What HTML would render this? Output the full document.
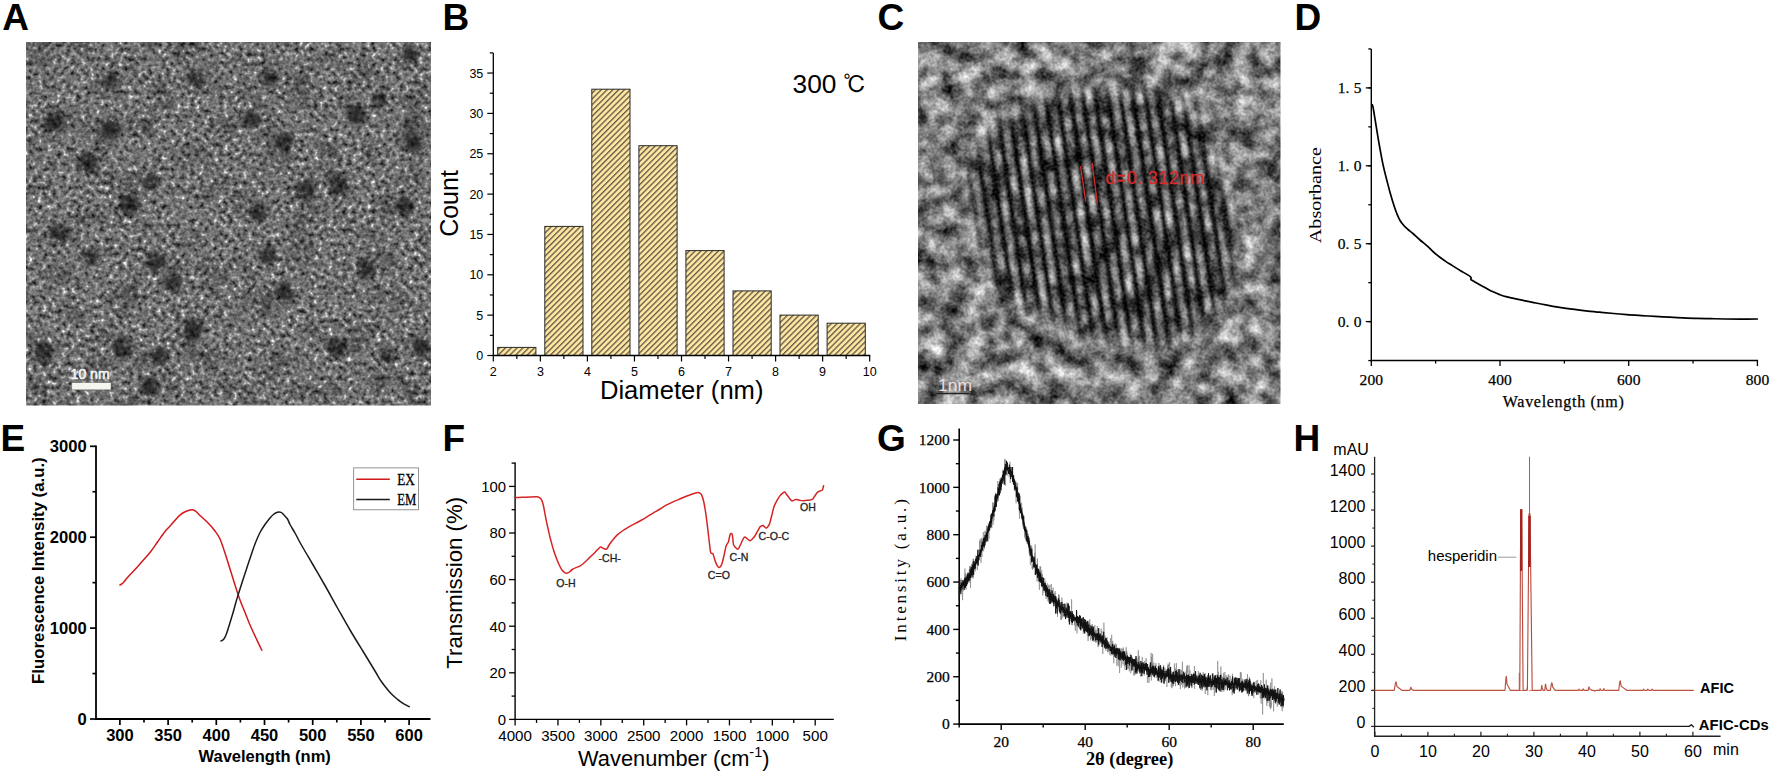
<!DOCTYPE html>
<html lang="en"><head><meta charset="utf-8"><title>Figure</title>
<style>
html,body{margin:0;padding:0;background:#fff;}
body{width:1772px;height:773px;overflow:hidden;}
svg{display:block;}
text{white-space:pre;}
</style></head><body>
<svg width="1772" height="773" viewBox="0 0 1772 773">
<rect width="1772" height="773" fill="#fff"/>
<defs>
<filter id="grainA" x="0" y="0" width="100%" height="100%" color-interpolation-filters="sRGB">
  <feTurbulence type="fractalNoise" baseFrequency="0.21" numOctaves="2" seed="7" result="n"/>
  <feColorMatrix in="n" type="matrix" values="1.55 0 0 0 -0.275  1.55 0 0 0 -0.275  1.55 0 0 0 -0.275  0 0 0 0 1" result="g"/>
  <feComponentTransfer in="g" result="t">
    <feFuncR type="table" tableValues="0.10 0.31 0.45 0.59 0.96"/>
    <feFuncG type="table" tableValues="0.10 0.31 0.45 0.59 0.96"/>
    <feFuncB type="table" tableValues="0.10 0.31 0.45 0.59 0.96"/>
  </feComponentTransfer>
  <feGaussianBlur in="t" stdDeviation="0.7" result="tb"/>
  <feTurbulence type="fractalNoise" baseFrequency="0.035" numOctaves="2" seed="21" result="lf"/>
  <feColorMatrix in="lf" type="matrix" values="0.9 0 0 0 0.55  0.9 0 0 0 0.55  0.9 0 0 0 0.55  0 0 0 0 1" result="lfg"/>
  <feBlend in="tb" in2="lfg" mode="multiply" result="tb2"/>
  <feBlend in="SourceGraphic" in2="tb2" mode="multiply"/>
</filter>
<filter id="blurA" x="-50%" y="-50%" width="200%" height="200%"><feGaussianBlur stdDeviation="2.8"/></filter>
<pattern id="hatch" width="4.1" height="4.1" patternUnits="userSpaceOnUse" patternTransform="rotate(-45)">
  <rect width="4.1" height="4.1" fill="#FBE7A2"/>
  <rect y="0" width="4.1" height="1.35" fill="#6a5a48"/>
</pattern>
<clipPath id="clipA"><rect x="26" y="42" width="405" height="363.5"/></clipPath>
</defs>
<text x="2.2" y="29.6" font-family='"Liberation Sans", sans-serif' font-size="37" font-weight="bold" text-anchor="start" fill="#000" >A</text>
<text x="442.5" y="29.6" font-family='"Liberation Sans", sans-serif' font-size="37" font-weight="bold" text-anchor="start" fill="#000" >B</text>
<text x="877.5" y="29.6" font-family='"Liberation Sans", sans-serif' font-size="37" font-weight="bold" text-anchor="start" fill="#000" >C</text>
<text x="1294.5" y="29.6" font-family='"Liberation Sans", sans-serif' font-size="37" font-weight="bold" text-anchor="start" fill="#000" >D</text>
<text x="0.5" y="451.3" font-family='"Liberation Sans", sans-serif' font-size="37" font-weight="bold" text-anchor="start" fill="#000" >E</text>
<text x="442.5" y="451.3" font-family='"Liberation Sans", sans-serif' font-size="37" font-weight="bold" text-anchor="start" fill="#000" >F</text>
<text x="877.0" y="451.3" font-family='"Liberation Sans", sans-serif' font-size="37" font-weight="bold" text-anchor="start" fill="#000" >G</text>
<text x="1293.5" y="451.3" font-family='"Liberation Sans", sans-serif' font-size="37" font-weight="bold" text-anchor="start" fill="#000" >H</text>
<g clip-path="url(#clipA)"><g filter="url(#grainA)">
<rect x="26" y="42" width="405" height="363.5" fill="#ffffff"/>
<g filter="url(#blurA)" fill="#484848" fill-opacity="0.82">
<ellipse cx="111" cy="81" rx="8.1" ry="8.4"/>
<ellipse cx="195.5" cy="79" rx="8.4" ry="8.9"/>
<ellipse cx="270" cy="78" rx="9.1" ry="8.3"/>
<ellipse cx="380" cy="99" rx="7.5" ry="8.4"/>
<ellipse cx="410" cy="54" rx="8.1" ry="7.8"/>
<ellipse cx="54" cy="120.5" rx="10.0" ry="10.2"/>
<ellipse cx="111" cy="129" rx="9.6" ry="9.8"/>
<ellipse cx="251" cy="119.5" rx="9.1" ry="8.5"/>
<ellipse cx="285" cy="142" rx="9.1" ry="10.2"/>
<ellipse cx="356" cy="115" rx="8.8" ry="9.6"/>
<ellipse cx="413" cy="144" rx="9.2" ry="8.4"/>
<ellipse cx="87" cy="163" rx="9.4" ry="9.8"/>
<ellipse cx="151" cy="182" rx="8.3" ry="7.5"/>
<ellipse cx="130" cy="205" rx="9.7" ry="9.8"/>
<ellipse cx="306" cy="190" rx="9.3" ry="10.4"/>
<ellipse cx="339.5" cy="186" rx="9.3" ry="10.5"/>
<ellipse cx="405" cy="205" rx="8.5" ry="9.3"/>
<ellipse cx="258" cy="212" rx="8.6" ry="9.8"/>
<ellipse cx="58" cy="233.5" rx="9.7" ry="9.0"/>
<ellipse cx="91" cy="257" rx="7.8" ry="7.5"/>
<ellipse cx="155" cy="262" rx="9.9" ry="10.0"/>
<ellipse cx="173" cy="282.5" rx="9.1" ry="8.8"/>
<ellipse cx="268" cy="255" rx="8.8" ry="8.7"/>
<ellipse cx="285" cy="290.5" rx="8.4" ry="8.8"/>
<ellipse cx="366.5" cy="268" rx="9.0" ry="10.1"/>
<ellipse cx="43.5" cy="353" rx="9.2" ry="10.4"/>
<ellipse cx="122" cy="347.5" rx="9.6" ry="11.1"/>
<ellipse cx="160" cy="356" rx="9.2" ry="8.6"/>
<ellipse cx="193" cy="330" rx="9.7" ry="11.0"/>
<ellipse cx="337" cy="347.5" rx="9.8" ry="10.2"/>
<ellipse cx="422.5" cy="347.5" rx="9.3" ry="8.8"/>
<ellipse cx="149.5" cy="387" rx="9.6" ry="10.0"/>
<ellipse cx="388" cy="356" rx="8.2" ry="7.5"/>
</g></g></g>
<rect x="71.7" y="382.6" width="39.3" height="7.2" fill="#f5f5ef" stroke="#3a3a3a" stroke-opacity="0.45" stroke-width="0.8"/>
<text x="70.6" y="379.4" font-family='"Liberation Sans", sans-serif' font-size="14.2" font-weight="normal" text-anchor="start" fill="#f6f6f2" stroke="#f6f6f2" stroke-width="0.55" textLength="39" lengthAdjust="spacingAndGlyphs">10 nm</text>
<rect x="497.7" y="347.4" width="38.2" height="8.1" fill="url(#hatch)" stroke="#2a2a2a" stroke-width="1"/>
<rect x="544.8" y="226.4" width="38.2" height="129.1" fill="url(#hatch)" stroke="#2a2a2a" stroke-width="1"/>
<rect x="591.8" y="89.2" width="38.2" height="266.3" fill="url(#hatch)" stroke="#2a2a2a" stroke-width="1"/>
<rect x="638.9" y="145.7" width="38.2" height="209.8" fill="url(#hatch)" stroke="#2a2a2a" stroke-width="1"/>
<rect x="685.9" y="250.6" width="38.2" height="104.9" fill="url(#hatch)" stroke="#2a2a2a" stroke-width="1"/>
<rect x="733.0" y="290.9" width="38.2" height="64.6" fill="url(#hatch)" stroke="#2a2a2a" stroke-width="1"/>
<rect x="780.0" y="315.1" width="38.2" height="40.4" fill="url(#hatch)" stroke="#2a2a2a" stroke-width="1"/>
<rect x="827.1" y="323.2" width="38.2" height="32.3" fill="url(#hatch)" stroke="#2a2a2a" stroke-width="1"/>
<line x1="493.30" y1="356.10" x2="493.30" y2="52.88" stroke="#000" stroke-width="1.3" />
<line x1="492.70" y1="355.50" x2="870.30" y2="355.50" stroke="#000" stroke-width="1.3" />
<line x1="487.30" y1="355.50" x2="493.30" y2="355.50" stroke="#000" stroke-width="1.2" />
<text x="483.3" y="359.9" font-family='"Liberation Sans", sans-serif' font-size="12.5" font-weight="normal" text-anchor="end" fill="#000" >0</text>
<line x1="487.30" y1="315.15" x2="493.30" y2="315.15" stroke="#000" stroke-width="1.2" />
<text x="483.3" y="319.5" font-family='"Liberation Sans", sans-serif' font-size="12.5" font-weight="normal" text-anchor="end" fill="#000" >5</text>
<line x1="487.30" y1="274.80" x2="493.30" y2="274.80" stroke="#000" stroke-width="1.2" />
<text x="483.3" y="279.2" font-family='"Liberation Sans", sans-serif' font-size="12.5" font-weight="normal" text-anchor="end" fill="#000" >10</text>
<line x1="487.30" y1="234.45" x2="493.30" y2="234.45" stroke="#000" stroke-width="1.2" />
<text x="483.3" y="238.8" font-family='"Liberation Sans", sans-serif' font-size="12.5" font-weight="normal" text-anchor="end" fill="#000" >15</text>
<line x1="487.30" y1="194.10" x2="493.30" y2="194.10" stroke="#000" stroke-width="1.2" />
<text x="483.3" y="198.5" font-family='"Liberation Sans", sans-serif' font-size="12.5" font-weight="normal" text-anchor="end" fill="#000" >20</text>
<line x1="487.30" y1="153.75" x2="493.30" y2="153.75" stroke="#000" stroke-width="1.2" />
<text x="483.3" y="158.2" font-family='"Liberation Sans", sans-serif' font-size="12.5" font-weight="normal" text-anchor="end" fill="#000" >25</text>
<line x1="487.30" y1="113.40" x2="493.30" y2="113.40" stroke="#000" stroke-width="1.2" />
<text x="483.3" y="117.8" font-family='"Liberation Sans", sans-serif' font-size="12.5" font-weight="normal" text-anchor="end" fill="#000" >30</text>
<line x1="487.30" y1="73.05" x2="493.30" y2="73.05" stroke="#000" stroke-width="1.2" />
<text x="483.3" y="77.5" font-family='"Liberation Sans", sans-serif' font-size="12.5" font-weight="normal" text-anchor="end" fill="#000" >35</text>
<line x1="489.80" y1="335.32" x2="493.30" y2="335.32" stroke="#000" stroke-width="1.2" />
<line x1="489.80" y1="294.98" x2="493.30" y2="294.98" stroke="#000" stroke-width="1.2" />
<line x1="489.80" y1="254.62" x2="493.30" y2="254.62" stroke="#000" stroke-width="1.2" />
<line x1="489.80" y1="214.28" x2="493.30" y2="214.28" stroke="#000" stroke-width="1.2" />
<line x1="489.80" y1="173.92" x2="493.30" y2="173.92" stroke="#000" stroke-width="1.2" />
<line x1="489.80" y1="133.57" x2="493.30" y2="133.57" stroke="#000" stroke-width="1.2" />
<line x1="489.80" y1="93.22" x2="493.30" y2="93.22" stroke="#000" stroke-width="1.2" />
<line x1="489.80" y1="52.88" x2="493.30" y2="52.88" stroke="#000" stroke-width="1.2" />
<line x1="493.30" y1="355.50" x2="493.30" y2="361.50" stroke="#000" stroke-width="1.2" />
<text x="493.3" y="376.3" font-family='"Liberation Sans", sans-serif' font-size="12.5" font-weight="normal" text-anchor="middle" fill="#000" >2</text>
<line x1="540.35" y1="355.50" x2="540.35" y2="361.50" stroke="#000" stroke-width="1.2" />
<text x="540.4" y="376.3" font-family='"Liberation Sans", sans-serif' font-size="12.5" font-weight="normal" text-anchor="middle" fill="#000" >3</text>
<line x1="587.40" y1="355.50" x2="587.40" y2="361.50" stroke="#000" stroke-width="1.2" />
<text x="587.4" y="376.3" font-family='"Liberation Sans", sans-serif' font-size="12.5" font-weight="normal" text-anchor="middle" fill="#000" >4</text>
<line x1="634.45" y1="355.50" x2="634.45" y2="361.50" stroke="#000" stroke-width="1.2" />
<text x="634.5" y="376.3" font-family='"Liberation Sans", sans-serif' font-size="12.5" font-weight="normal" text-anchor="middle" fill="#000" >5</text>
<line x1="681.50" y1="355.50" x2="681.50" y2="361.50" stroke="#000" stroke-width="1.2" />
<text x="681.5" y="376.3" font-family='"Liberation Sans", sans-serif' font-size="12.5" font-weight="normal" text-anchor="middle" fill="#000" >6</text>
<line x1="728.55" y1="355.50" x2="728.55" y2="361.50" stroke="#000" stroke-width="1.2" />
<text x="728.5" y="376.3" font-family='"Liberation Sans", sans-serif' font-size="12.5" font-weight="normal" text-anchor="middle" fill="#000" >7</text>
<line x1="775.60" y1="355.50" x2="775.60" y2="361.50" stroke="#000" stroke-width="1.2" />
<text x="775.6" y="376.3" font-family='"Liberation Sans", sans-serif' font-size="12.5" font-weight="normal" text-anchor="middle" fill="#000" >8</text>
<line x1="822.65" y1="355.50" x2="822.65" y2="361.50" stroke="#000" stroke-width="1.2" />
<text x="822.6" y="376.3" font-family='"Liberation Sans", sans-serif' font-size="12.5" font-weight="normal" text-anchor="middle" fill="#000" >9</text>
<line x1="869.70" y1="355.50" x2="869.70" y2="361.50" stroke="#000" stroke-width="1.2" />
<text x="869.7" y="376.3" font-family='"Liberation Sans", sans-serif' font-size="12.5" font-weight="normal" text-anchor="middle" fill="#000" >10</text>
<line x1="516.83" y1="355.50" x2="516.83" y2="359.00" stroke="#000" stroke-width="1.2" />
<line x1="563.88" y1="355.50" x2="563.88" y2="359.00" stroke="#000" stroke-width="1.2" />
<line x1="610.92" y1="355.50" x2="610.92" y2="359.00" stroke="#000" stroke-width="1.2" />
<line x1="657.98" y1="355.50" x2="657.98" y2="359.00" stroke="#000" stroke-width="1.2" />
<line x1="705.02" y1="355.50" x2="705.02" y2="359.00" stroke="#000" stroke-width="1.2" />
<line x1="752.08" y1="355.50" x2="752.08" y2="359.00" stroke="#000" stroke-width="1.2" />
<line x1="799.12" y1="355.50" x2="799.12" y2="359.00" stroke="#000" stroke-width="1.2" />
<line x1="846.17" y1="355.50" x2="846.17" y2="359.00" stroke="#000" stroke-width="1.2" />
<text x="681.7" y="399.0" font-family='"Liberation Sans", sans-serif' font-size="25.6" font-weight="normal" text-anchor="middle" fill="#000" >Diameter (nm)</text>
<text transform="translate(457.6,203.5) rotate(-90)" font-family='"Liberation Sans", sans-serif' font-size="25" font-weight="normal" text-anchor="middle" fill="#000" >Count</text>
<text x="792.6" y="93.3" font-family='"Liberation Sans", sans-serif' font-size="26.3" font-weight="normal" text-anchor="start" fill="#000" >300 <tspan font-family='"Liberation Sans","IPAGothic","Noto Sans CJK JP",sans-serif' font-size="23.5" dx="-0.5" dy="0">℃</tspan></text>
<line x1="1371.30" y1="361.25" x2="1371.30" y2="48.95" stroke="#000" stroke-width="1.4" />
<line x1="1370.60" y1="360.55" x2="1758.10" y2="360.55" stroke="#000" stroke-width="1.4" />
<line x1="1365.80" y1="321.60" x2="1371.30" y2="321.60" stroke="#000" stroke-width="1.3" />
<text x="1337.8" y="326.6" font-family='"Liberation Serif", serif' font-size="15.5" font-weight="normal" text-anchor="start" fill="#000" stroke="#000" stroke-width="0.25">0.<tspan dx="4.2">0</tspan></text>
<line x1="1365.80" y1="243.70" x2="1371.30" y2="243.70" stroke="#000" stroke-width="1.3" />
<text x="1337.8" y="248.7" font-family='"Liberation Serif", serif' font-size="15.5" font-weight="normal" text-anchor="start" fill="#000" stroke="#000" stroke-width="0.25">0.<tspan dx="4.2">5</tspan></text>
<line x1="1365.80" y1="165.80" x2="1371.30" y2="165.80" stroke="#000" stroke-width="1.3" />
<text x="1337.8" y="170.8" font-family='"Liberation Serif", serif' font-size="15.5" font-weight="normal" text-anchor="start" fill="#000" stroke="#000" stroke-width="0.25">1.<tspan dx="4.2">0</tspan></text>
<line x1="1365.80" y1="87.90" x2="1371.30" y2="87.90" stroke="#000" stroke-width="1.3" />
<text x="1337.8" y="92.9" font-family='"Liberation Serif", serif' font-size="15.5" font-weight="normal" text-anchor="start" fill="#000" stroke="#000" stroke-width="0.25">1.<tspan dx="4.2">5</tspan></text>
<line x1="1368.30" y1="360.55" x2="1371.30" y2="360.55" stroke="#000" stroke-width="1.3" />
<line x1="1368.30" y1="321.60" x2="1371.30" y2="321.60" stroke="#000" stroke-width="1.3" />
<line x1="1368.30" y1="282.65" x2="1371.30" y2="282.65" stroke="#000" stroke-width="1.3" />
<line x1="1368.30" y1="243.70" x2="1371.30" y2="243.70" stroke="#000" stroke-width="1.3" />
<line x1="1368.30" y1="204.75" x2="1371.30" y2="204.75" stroke="#000" stroke-width="1.3" />
<line x1="1368.30" y1="165.80" x2="1371.30" y2="165.80" stroke="#000" stroke-width="1.3" />
<line x1="1368.30" y1="126.85" x2="1371.30" y2="126.85" stroke="#000" stroke-width="1.3" />
<line x1="1368.30" y1="87.90" x2="1371.30" y2="87.90" stroke="#000" stroke-width="1.3" />
<line x1="1368.30" y1="48.95" x2="1371.30" y2="48.95" stroke="#000" stroke-width="1.3" />
<line x1="1371.30" y1="360.55" x2="1371.30" y2="366.05" stroke="#000" stroke-width="1.3" />
<text x="1371.3" y="384.6" font-family='"Liberation Serif", serif' font-size="15.5" font-weight="normal" text-anchor="middle" fill="#000" textLength="23.5" lengthAdjust="spacing" stroke="#000" stroke-width="0.25">200</text>
<line x1="1500.00" y1="360.55" x2="1500.00" y2="366.05" stroke="#000" stroke-width="1.3" />
<text x="1500.0" y="384.6" font-family='"Liberation Serif", serif' font-size="15.5" font-weight="normal" text-anchor="middle" fill="#000" textLength="23.5" lengthAdjust="spacing" stroke="#000" stroke-width="0.25">400</text>
<line x1="1628.70" y1="360.55" x2="1628.70" y2="366.05" stroke="#000" stroke-width="1.3" />
<text x="1628.7" y="384.6" font-family='"Liberation Serif", serif' font-size="15.5" font-weight="normal" text-anchor="middle" fill="#000" textLength="23.5" lengthAdjust="spacing" stroke="#000" stroke-width="0.25">600</text>
<line x1="1757.40" y1="360.55" x2="1757.40" y2="366.05" stroke="#000" stroke-width="1.3" />
<text x="1757.4" y="384.6" font-family='"Liberation Serif", serif' font-size="15.5" font-weight="normal" text-anchor="middle" fill="#000" textLength="23.5" lengthAdjust="spacing" stroke="#000" stroke-width="0.25">800</text>
<line x1="1435.65" y1="360.55" x2="1435.65" y2="363.55" stroke="#000" stroke-width="1.3" />
<line x1="1564.35" y1="360.55" x2="1564.35" y2="363.55" stroke="#000" stroke-width="1.3" />
<line x1="1693.05" y1="360.55" x2="1693.05" y2="363.55" stroke="#000" stroke-width="1.3" />
<text x="1563.3" y="406.8" font-family='"Liberation Serif", serif' font-size="16" font-weight="normal" text-anchor="middle" fill="#000" textLength="121" lengthAdjust="spacing" stroke="#000" stroke-width="0.25">Wavelength (nm)</text>
<text transform="translate(1320.6,195.2) rotate(-90)" font-family='"Liberation Serif", serif' font-size="17" font-weight="normal" text-anchor="middle" fill="#000" textLength="96" lengthAdjust="spacingAndGlyphs">Absorbance</text>
<path d="M1371.8,104.6C1372.0,105.0 1372.3,103.6 1373.0,107.0C1373.7,110.4 1374.9,118.7 1376.0,125.2C1377.1,131.7 1378.3,139.5 1379.5,146.0C1380.7,152.5 1381.7,158.6 1382.9,164.1C1384.1,169.6 1385.3,174.4 1386.5,179.0C1387.7,183.6 1388.7,187.7 1389.9,191.9C1391.1,196.1 1392.3,200.4 1393.5,204.0C1394.7,207.6 1395.7,210.8 1396.8,213.5C1397.9,216.2 1398.8,218.5 1400.0,220.5C1401.2,222.5 1402.5,224.0 1403.8,225.5C1405.1,227.0 1406.4,228.1 1408.0,229.5C1409.6,230.9 1411.5,232.2 1413.5,234.0C1415.5,235.8 1417.7,238.0 1420.0,240.0C1422.3,242.0 1425.2,244.2 1427.4,246.2C1429.7,248.2 1431.4,250.2 1433.5,252.0C1435.6,253.8 1437.8,255.7 1439.9,257.3C1442.0,258.9 1443.9,260.2 1446.0,261.6C1448.1,263.0 1449.9,264.0 1452.4,265.6C1454.9,267.2 1458.0,269.2 1461.0,271.0C1464.0,272.8 1468.6,275.2 1470.3,276.6C1472.0,278.0 1470.6,278.7 1470.9,279.3C1471.2,279.9 1470.8,279.6 1472.0,280.3C1473.2,281.0 1475.7,282.4 1478.0,283.7C1480.3,285.0 1483.4,286.7 1485.8,288.0C1488.2,289.3 1490.2,290.5 1492.5,291.6C1494.8,292.7 1497.5,293.8 1499.7,294.6C1502.0,295.4 1503.7,296.0 1506.0,296.6C1508.3,297.2 1510.6,297.7 1513.6,298.4C1516.6,299.1 1520.3,299.8 1524.0,300.6C1527.7,301.4 1532.1,302.2 1535.9,303.0C1539.7,303.8 1543.3,304.5 1547.0,305.2C1550.7,305.9 1553.9,306.5 1558.1,307.2C1562.3,307.9 1567.4,308.6 1572.0,309.2C1576.6,309.8 1581.2,310.3 1585.9,310.8C1590.6,311.3 1595.4,311.8 1600.0,312.2C1604.6,312.6 1609.2,313.1 1613.7,313.5C1618.2,313.9 1622.4,314.2 1627.0,314.6C1631.6,315.0 1636.8,315.3 1641.5,315.6C1646.2,315.9 1650.3,316.1 1655.0,316.4C1659.7,316.7 1664.7,317.0 1669.4,317.2C1674.1,317.4 1678.4,317.6 1683.0,317.8C1687.6,318.0 1692.5,318.2 1697.2,318.3C1701.9,318.4 1706.4,318.6 1711.0,318.7C1715.6,318.8 1720.0,318.9 1725.0,319.0C1730.0,319.1 1735.6,319.1 1741.0,319.1C1746.4,319.1 1754.6,319.0 1757.3,319.0" fill="none" stroke="#000" stroke-width="1.7" stroke-linejoin="round" stroke-linecap="round" />
<defs>
<clipPath id="clipC"><rect x="918" y="42" width="362.5" height="362"/></clipPath>
<filter id="blurC8" x="-30%" y="-30%" width="160%" height="160%"><feGaussianBlur stdDeviation="9"/></filter>
<filter id="blurC2" x="-10%" y="-10%" width="120%" height="120%"><feGaussianBlur stdDeviation="1.7"/></filter>
<mask id="maskC" maskUnits="userSpaceOnUse" x="918" y="42" width="362.5" height="362">
  <polygon points="1025.7,107.6 1072.6,91.2 1161.6,93.5 1199.0,121.6 1236.5,229.4 1222.4,304.3 1161.6,346.4 1096.0,332.4 1030.4,309.0 997.6,285.6 964.8,182.5 988.3,135.7" fill="#fff" filter="url(#blurC8)"/>
</mask>
<filter id="grainC" filterUnits="userSpaceOnUse" x="700" y="-200" width="800" height="850" color-interpolation-filters="sRGB">
  <feTurbulence type="fractalNoise" baseFrequency="0.055" numOctaves="3" seed="11" result="n"/>
  <feColorMatrix in="n" type="matrix" values="1 0 0 0 0  1 0 0 0 0  1 0 0 0 0  0 0 0 0 1" result="g"/>
  <feTurbulence type="fractalNoise" baseFrequency="0.4" numOctaves="1" seed="5" result="n2"/>
  <feColorMatrix in="n2" type="matrix" values="1 0 0 0 0  1 0 0 0 0  1 0 0 0 0  0 0 0 0 1" result="g2"/>
  <feComposite in="SourceGraphic" in2="g" operator="arithmetic" k1="2.5" k2="-0.25" k3="0" k4="0" result="s1"/>
  <feComposite in="s1" in2="g2" operator="arithmetic" k1="0" k2="1" k3="0.45" k4="-0.225"/>
</filter>
</defs>
<g clip-path="url(#clipC)"><g transform="rotate(27 1100 223)" filter="url(#grainC)"><g transform="rotate(-27 1100 223)">
<rect x="913" y="37" width="372.5" height="372" fill="#7f7f7f"/>
<polygon points="1025.7,107.6 1072.6,91.2 1161.6,93.5 1199.0,121.6 1236.5,229.4 1222.4,304.3 1161.6,346.4 1096.0,332.4 1030.4,309.0 997.6,285.6 964.8,182.5 988.3,135.7" fill="#3a3a3a" fill-opacity="0.55" filter="url(#blurC8)"/>
<g mask="url(#maskC)"><g filter="url(#blurC2)" transform="translate(1100,220) rotate(-8.3)">
<rect x="-176.4" y="-200" width="7.6" height="400" fill="#000" fill-opacity="0.85"/>
<rect x="-168.9" y="-200" width="5.0" height="400" fill="#fff" fill-opacity="0.17"/>
<rect x="-164.0" y="-200" width="7.6" height="400" fill="#000" fill-opacity="0.85"/>
<rect x="-156.5" y="-200" width="5.0" height="400" fill="#fff" fill-opacity="0.17"/>
<rect x="-151.6" y="-200" width="7.6" height="400" fill="#000" fill-opacity="0.85"/>
<rect x="-144.1" y="-200" width="5.0" height="400" fill="#fff" fill-opacity="0.17"/>
<rect x="-139.2" y="-200" width="7.6" height="400" fill="#000" fill-opacity="0.85"/>
<rect x="-131.7" y="-200" width="5.0" height="400" fill="#fff" fill-opacity="0.17"/>
<rect x="-126.8" y="-200" width="7.6" height="400" fill="#000" fill-opacity="0.85"/>
<rect x="-119.3" y="-200" width="5.0" height="400" fill="#fff" fill-opacity="0.17"/>
<rect x="-114.4" y="-200" width="7.6" height="400" fill="#000" fill-opacity="0.85"/>
<rect x="-106.9" y="-200" width="5.0" height="400" fill="#fff" fill-opacity="0.17"/>
<rect x="-102.0" y="-200" width="7.6" height="400" fill="#000" fill-opacity="0.85"/>
<rect x="-94.5" y="-200" width="5.0" height="400" fill="#fff" fill-opacity="0.17"/>
<rect x="-89.6" y="-200" width="7.6" height="400" fill="#000" fill-opacity="0.85"/>
<rect x="-82.1" y="-200" width="5.0" height="400" fill="#fff" fill-opacity="0.17"/>
<rect x="-77.2" y="-200" width="7.6" height="400" fill="#000" fill-opacity="0.85"/>
<rect x="-69.7" y="-200" width="5.0" height="400" fill="#fff" fill-opacity="0.17"/>
<rect x="-64.8" y="-200" width="7.6" height="400" fill="#000" fill-opacity="0.85"/>
<rect x="-57.3" y="-200" width="5.0" height="400" fill="#fff" fill-opacity="0.17"/>
<rect x="-52.4" y="-200" width="7.6" height="400" fill="#000" fill-opacity="0.85"/>
<rect x="-44.9" y="-200" width="5.0" height="400" fill="#fff" fill-opacity="0.17"/>
<rect x="-40.0" y="-200" width="7.6" height="400" fill="#000" fill-opacity="0.85"/>
<rect x="-32.5" y="-200" width="5.0" height="400" fill="#fff" fill-opacity="0.17"/>
<rect x="-27.6" y="-200" width="7.6" height="400" fill="#000" fill-opacity="0.85"/>
<rect x="-20.1" y="-200" width="5.0" height="400" fill="#fff" fill-opacity="0.17"/>
<rect x="-15.2" y="-200" width="7.6" height="400" fill="#000" fill-opacity="0.85"/>
<rect x="-7.7" y="-200" width="5.0" height="400" fill="#fff" fill-opacity="0.17"/>
<rect x="-2.8" y="-200" width="7.6" height="400" fill="#000" fill-opacity="0.85"/>
<rect x="4.7" y="-200" width="5.0" height="400" fill="#fff" fill-opacity="0.17"/>
<rect x="9.6" y="-200" width="7.6" height="400" fill="#000" fill-opacity="0.85"/>
<rect x="17.1" y="-200" width="5.0" height="400" fill="#fff" fill-opacity="0.17"/>
<rect x="22.0" y="-200" width="7.6" height="400" fill="#000" fill-opacity="0.85"/>
<rect x="29.5" y="-200" width="5.0" height="400" fill="#fff" fill-opacity="0.17"/>
<rect x="34.4" y="-200" width="7.6" height="400" fill="#000" fill-opacity="0.85"/>
<rect x="41.9" y="-200" width="5.0" height="400" fill="#fff" fill-opacity="0.17"/>
<rect x="46.8" y="-200" width="7.6" height="400" fill="#000" fill-opacity="0.85"/>
<rect x="54.3" y="-200" width="5.0" height="400" fill="#fff" fill-opacity="0.17"/>
<rect x="59.2" y="-200" width="7.6" height="400" fill="#000" fill-opacity="0.85"/>
<rect x="66.7" y="-200" width="5.0" height="400" fill="#fff" fill-opacity="0.17"/>
<rect x="71.6" y="-200" width="7.6" height="400" fill="#000" fill-opacity="0.85"/>
<rect x="79.1" y="-200" width="5.0" height="400" fill="#fff" fill-opacity="0.17"/>
<rect x="84.0" y="-200" width="7.6" height="400" fill="#000" fill-opacity="0.85"/>
<rect x="91.5" y="-200" width="5.0" height="400" fill="#fff" fill-opacity="0.17"/>
<rect x="96.4" y="-200" width="7.6" height="400" fill="#000" fill-opacity="0.85"/>
<rect x="103.9" y="-200" width="5.0" height="400" fill="#fff" fill-opacity="0.17"/>
<rect x="108.8" y="-200" width="7.6" height="400" fill="#000" fill-opacity="0.85"/>
<rect x="116.3" y="-200" width="5.0" height="400" fill="#fff" fill-opacity="0.17"/>
<rect x="121.2" y="-200" width="7.6" height="400" fill="#000" fill-opacity="0.85"/>
<rect x="128.7" y="-200" width="5.0" height="400" fill="#fff" fill-opacity="0.17"/>
<rect x="133.6" y="-200" width="7.6" height="400" fill="#000" fill-opacity="0.85"/>
<rect x="141.1" y="-200" width="5.0" height="400" fill="#fff" fill-opacity="0.17"/>
<rect x="146.0" y="-200" width="7.6" height="400" fill="#000" fill-opacity="0.85"/>
<rect x="153.5" y="-200" width="5.0" height="400" fill="#fff" fill-opacity="0.17"/>
<rect x="158.4" y="-200" width="7.6" height="400" fill="#000" fill-opacity="0.85"/>
<rect x="165.9" y="-200" width="5.0" height="400" fill="#fff" fill-opacity="0.17"/>
<rect x="170.8" y="-200" width="7.6" height="400" fill="#000" fill-opacity="0.85"/>
<rect x="178.3" y="-200" width="5.0" height="400" fill="#fff" fill-opacity="0.17"/>
</g></g>
</g></g></g>
<line x1="1080.50" y1="166.10" x2="1085.70" y2="201.30" stroke="#d42a2a" stroke-width="1.3" />
<line x1="1092.20" y1="162.80" x2="1097.40" y2="203.60" stroke="#d42a2a" stroke-width="1.3" />
<text x="1105.5" y="184.0" font-family='"Liberation Sans", sans-serif' font-size="17.5" font-weight="normal" text-anchor="start" fill="#d62c2c" textLength="99" lengthAdjust="spacing" stroke="#d62c2c" stroke-width="0.3">d=0.<tspan dx="5">312nm</tspan></text>
<text x="938.0" y="391.0" font-family='"Liberation Sans", sans-serif' font-size="17" font-weight="normal" text-anchor="start" fill="#eadcdc" textLength="34" lengthAdjust="spacingAndGlyphs">1nm</text>
<line x1="936.50" y1="393.50" x2="969.50" y2="393.50" stroke="#222" stroke-width="1.6" />
<line x1="96.00" y1="719.90" x2="96.00" y2="445.40" stroke="#000" stroke-width="1.8" />
<line x1="95.10" y1="719.00" x2="430.50" y2="719.00" stroke="#000" stroke-width="1.8" />
<line x1="90.00" y1="719.00" x2="96.00" y2="719.00" stroke="#000" stroke-width="1.7" />
<text x="86.7" y="724.5" font-family='"Liberation Sans", sans-serif' font-size="16.6" font-weight="bold" text-anchor="end" fill="#000" >0</text>
<line x1="90.00" y1="628.10" x2="96.00" y2="628.10" stroke="#000" stroke-width="1.7" />
<text x="86.7" y="633.6" font-family='"Liberation Sans", sans-serif' font-size="16.6" font-weight="bold" text-anchor="end" fill="#000" >1000</text>
<line x1="90.00" y1="537.20" x2="96.00" y2="537.20" stroke="#000" stroke-width="1.7" />
<text x="86.7" y="542.7" font-family='"Liberation Sans", sans-serif' font-size="16.6" font-weight="bold" text-anchor="end" fill="#000" >2000</text>
<line x1="90.00" y1="446.30" x2="96.00" y2="446.30" stroke="#000" stroke-width="1.7" />
<text x="86.7" y="451.8" font-family='"Liberation Sans", sans-serif' font-size="16.6" font-weight="bold" text-anchor="end" fill="#000" >3000</text>
<line x1="92.50" y1="673.55" x2="96.00" y2="673.55" stroke="#000" stroke-width="1.7" />
<line x1="92.50" y1="582.65" x2="96.00" y2="582.65" stroke="#000" stroke-width="1.7" />
<line x1="92.50" y1="491.75" x2="96.00" y2="491.75" stroke="#000" stroke-width="1.7" />
<line x1="119.90" y1="719.00" x2="119.90" y2="725.00" stroke="#000" stroke-width="1.7" />
<text x="119.9" y="741.3" font-family='"Liberation Sans", sans-serif' font-size="16.5" font-weight="bold" text-anchor="middle" fill="#000" >300</text>
<line x1="168.10" y1="719.00" x2="168.10" y2="725.00" stroke="#000" stroke-width="1.7" />
<text x="168.1" y="741.3" font-family='"Liberation Sans", sans-serif' font-size="16.5" font-weight="bold" text-anchor="middle" fill="#000" >350</text>
<line x1="216.30" y1="719.00" x2="216.30" y2="725.00" stroke="#000" stroke-width="1.7" />
<text x="216.3" y="741.3" font-family='"Liberation Sans", sans-serif' font-size="16.5" font-weight="bold" text-anchor="middle" fill="#000" >400</text>
<line x1="264.50" y1="719.00" x2="264.50" y2="725.00" stroke="#000" stroke-width="1.7" />
<text x="264.5" y="741.3" font-family='"Liberation Sans", sans-serif' font-size="16.5" font-weight="bold" text-anchor="middle" fill="#000" >450</text>
<line x1="312.70" y1="719.00" x2="312.70" y2="725.00" stroke="#000" stroke-width="1.7" />
<text x="312.7" y="741.3" font-family='"Liberation Sans", sans-serif' font-size="16.5" font-weight="bold" text-anchor="middle" fill="#000" >500</text>
<line x1="360.90" y1="719.00" x2="360.90" y2="725.00" stroke="#000" stroke-width="1.7" />
<text x="360.9" y="741.3" font-family='"Liberation Sans", sans-serif' font-size="16.5" font-weight="bold" text-anchor="middle" fill="#000" >550</text>
<line x1="409.10" y1="719.00" x2="409.10" y2="725.00" stroke="#000" stroke-width="1.7" />
<text x="409.1" y="741.3" font-family='"Liberation Sans", sans-serif' font-size="16.5" font-weight="bold" text-anchor="middle" fill="#000" >600</text>
<line x1="144.00" y1="719.00" x2="144.00" y2="722.50" stroke="#000" stroke-width="1.7" />
<line x1="192.20" y1="719.00" x2="192.20" y2="722.50" stroke="#000" stroke-width="1.7" />
<line x1="240.40" y1="719.00" x2="240.40" y2="722.50" stroke="#000" stroke-width="1.7" />
<line x1="288.60" y1="719.00" x2="288.60" y2="722.50" stroke="#000" stroke-width="1.7" />
<line x1="336.80" y1="719.00" x2="336.80" y2="722.50" stroke="#000" stroke-width="1.7" />
<line x1="385.00" y1="719.00" x2="385.00" y2="722.50" stroke="#000" stroke-width="1.7" />
<text x="264.7" y="761.8" font-family='"Liberation Sans", sans-serif' font-size="16.5" font-weight="bold" text-anchor="middle" fill="#000" >Wavelength (nm)</text>
<text transform="translate(43.8,570.6) rotate(-90)" font-family='"Liberation Sans", sans-serif' font-size="16.8" font-weight="bold" text-anchor="middle" fill="#000" >Fluorescence Intensity (a.u.)</text>
<path d="M120.0,585.0C120.5,584.7 121.8,584.2 123.0,583.0C124.2,581.8 125.5,579.8 127.5,577.5C129.5,575.2 132.5,572.2 135.0,569.5C137.5,566.8 140.0,563.8 142.5,561.0C145.0,558.2 147.5,555.7 150.0,552.5C152.5,549.3 155.0,545.5 157.5,542.0C160.0,538.5 162.8,534.3 165.0,531.5C167.2,528.7 168.9,527.3 171.0,525.0C173.1,522.7 175.7,519.4 177.5,517.5C179.3,515.6 180.3,514.6 182.0,513.5C183.7,512.4 185.8,511.4 187.5,510.8C189.2,510.2 191.1,509.7 192.5,509.8C193.9,509.9 194.8,510.6 196.0,511.5C197.2,512.5 198.5,514.1 200.0,515.5C201.5,516.9 203.3,518.4 205.0,520.0C206.7,521.6 208.3,523.2 210.0,525.0C211.7,526.8 213.3,528.7 215.0,531.0C216.7,533.3 218.3,535.3 220.0,539.0C221.7,542.7 223.3,548.0 225.0,553.0C226.7,558.0 228.3,563.7 230.0,569.0C231.7,574.3 233.3,579.8 235.0,585.0C236.7,590.2 238.3,595.4 240.0,600.0C241.7,604.6 243.3,608.3 245.0,612.5C246.7,616.7 248.2,620.8 250.0,625.0C251.8,629.2 254.0,633.8 256.0,638.0C258.0,642.2 260.8,648.2 261.8,650.3" fill="none" stroke="#d3181c" stroke-width="1.5" stroke-linejoin="round" stroke-linecap="round" />
<path d="M221.0,641.0C221.4,640.8 222.7,640.5 223.5,639.5C224.3,638.5 225.1,637.2 226.0,635.0C226.9,632.8 227.9,629.4 229.0,626.0C230.1,622.6 231.3,618.5 232.5,614.5C233.7,610.5 234.8,606.2 236.0,602.0C237.2,597.8 238.5,593.8 240.0,589.0C241.5,584.2 243.3,578.6 245.0,573.5C246.7,568.4 248.3,563.4 250.0,558.5C251.7,553.6 253.3,548.3 255.0,544.0C256.7,539.7 258.3,535.8 260.0,532.5C261.7,529.2 263.3,526.9 265.0,524.5C266.7,522.1 268.5,519.8 270.0,518.0C271.5,516.2 272.8,515.0 274.0,514.0C275.2,513.0 276.3,512.5 277.5,512.2C278.7,511.9 279.9,511.9 281.0,512.4C282.1,512.9 282.9,513.9 284.0,515.0C285.1,516.1 286.5,517.4 287.5,519.0C288.5,520.6 288.8,522.2 290.0,524.5C291.2,526.8 293.3,530.0 295.0,533.0C296.7,536.0 297.1,537.3 300.0,542.5C302.9,547.7 308.3,556.8 312.5,564.0C316.7,571.2 320.8,578.2 325.0,585.5C329.2,592.8 333.3,600.6 337.5,608.0C341.7,615.4 345.8,622.9 350.0,630.0C354.2,637.1 358.3,643.7 362.5,650.5C366.7,657.3 371.9,665.9 375.0,671.0C378.1,676.1 378.9,677.9 381.0,681.0C383.1,684.1 385.6,687.2 387.5,689.5C389.4,691.8 390.8,693.4 392.5,695.0C394.2,696.6 395.8,697.9 397.5,699.3C399.2,700.7 401.1,702.1 403.0,703.3C404.9,704.5 408.2,706.1 409.2,706.7" fill="none" stroke="#1a1a1a" stroke-width="1.5" stroke-linejoin="round" stroke-linecap="round" />
<rect x="353.7" y="467.9" width="64.8" height="41.9" fill="#fff" stroke="#777" stroke-width="0.8"/>
<line x1="356.30" y1="479.30" x2="389.80" y2="479.30" stroke="#d3181c" stroke-width="1.5" />
<line x1="356.30" y1="499.40" x2="389.80" y2="499.40" stroke="#1a1a1a" stroke-width="1.5" />
<text x="397.3" y="485.3" font-family='"Liberation Serif", serif' font-size="17" font-weight="normal" text-anchor="start" fill="#000" textLength="17.5" lengthAdjust="spacingAndGlyphs" stroke="#000" stroke-width="0.35">EX</text>
<text x="397.3" y="505.3" font-family='"Liberation Serif", serif' font-size="17" font-weight="normal" text-anchor="start" fill="#000" textLength="19" lengthAdjust="spacingAndGlyphs" stroke="#000" stroke-width="0.35">EM</text>
<line x1="515.10" y1="720.10" x2="515.10" y2="462.60" stroke="#000" stroke-width="1.4" />
<line x1="514.40" y1="719.40" x2="833.80" y2="719.40" stroke="#000" stroke-width="1.4" />
<line x1="509.10" y1="719.40" x2="515.10" y2="719.40" stroke="#000" stroke-width="1.3" />
<text x="506.1" y="724.7" font-family='"Liberation Sans", sans-serif' font-size="14.9" font-weight="normal" text-anchor="end" fill="#000" >0</text>
<line x1="509.10" y1="672.80" x2="515.10" y2="672.80" stroke="#000" stroke-width="1.3" />
<text x="506.1" y="678.1" font-family='"Liberation Sans", sans-serif' font-size="14.9" font-weight="normal" text-anchor="end" fill="#000" >20</text>
<line x1="509.10" y1="626.20" x2="515.10" y2="626.20" stroke="#000" stroke-width="1.3" />
<text x="506.1" y="631.5" font-family='"Liberation Sans", sans-serif' font-size="14.9" font-weight="normal" text-anchor="end" fill="#000" >40</text>
<line x1="509.10" y1="579.60" x2="515.10" y2="579.60" stroke="#000" stroke-width="1.3" />
<text x="506.1" y="584.9" font-family='"Liberation Sans", sans-serif' font-size="14.9" font-weight="normal" text-anchor="end" fill="#000" >60</text>
<line x1="509.10" y1="533.00" x2="515.10" y2="533.00" stroke="#000" stroke-width="1.3" />
<text x="506.1" y="538.3" font-family='"Liberation Sans", sans-serif' font-size="14.9" font-weight="normal" text-anchor="end" fill="#000" >80</text>
<line x1="509.10" y1="486.40" x2="515.10" y2="486.40" stroke="#000" stroke-width="1.3" />
<text x="506.1" y="491.7" font-family='"Liberation Sans", sans-serif' font-size="14.9" font-weight="normal" text-anchor="end" fill="#000" >100</text>
<line x1="511.60" y1="696.10" x2="515.10" y2="696.10" stroke="#000" stroke-width="1.3" />
<line x1="511.60" y1="649.50" x2="515.10" y2="649.50" stroke="#000" stroke-width="1.3" />
<line x1="511.60" y1="602.90" x2="515.10" y2="602.90" stroke="#000" stroke-width="1.3" />
<line x1="511.60" y1="556.30" x2="515.10" y2="556.30" stroke="#000" stroke-width="1.3" />
<line x1="511.60" y1="509.70" x2="515.10" y2="509.70" stroke="#000" stroke-width="1.3" />
<line x1="511.60" y1="463.10" x2="515.10" y2="463.10" stroke="#000" stroke-width="1.3" />
<line x1="515.10" y1="719.40" x2="515.10" y2="725.40" stroke="#000" stroke-width="1.3" />
<text x="515.1" y="740.5" font-family='"Liberation Sans", sans-serif' font-size="15.1" font-weight="normal" text-anchor="middle" fill="#000" >4000</text>
<line x1="557.97" y1="719.40" x2="557.97" y2="725.40" stroke="#000" stroke-width="1.3" />
<text x="558.0" y="740.5" font-family='"Liberation Sans", sans-serif' font-size="15.1" font-weight="normal" text-anchor="middle" fill="#000" >3500</text>
<line x1="600.84" y1="719.40" x2="600.84" y2="725.40" stroke="#000" stroke-width="1.3" />
<text x="600.8" y="740.5" font-family='"Liberation Sans", sans-serif' font-size="15.1" font-weight="normal" text-anchor="middle" fill="#000" >3000</text>
<line x1="643.71" y1="719.40" x2="643.71" y2="725.40" stroke="#000" stroke-width="1.3" />
<text x="643.7" y="740.5" font-family='"Liberation Sans", sans-serif' font-size="15.1" font-weight="normal" text-anchor="middle" fill="#000" >2500</text>
<line x1="686.58" y1="719.40" x2="686.58" y2="725.40" stroke="#000" stroke-width="1.3" />
<text x="686.6" y="740.5" font-family='"Liberation Sans", sans-serif' font-size="15.1" font-weight="normal" text-anchor="middle" fill="#000" >2000</text>
<line x1="729.45" y1="719.40" x2="729.45" y2="725.40" stroke="#000" stroke-width="1.3" />
<text x="729.5" y="740.5" font-family='"Liberation Sans", sans-serif' font-size="15.1" font-weight="normal" text-anchor="middle" fill="#000" >1500</text>
<line x1="772.32" y1="719.40" x2="772.32" y2="725.40" stroke="#000" stroke-width="1.3" />
<text x="772.3" y="740.5" font-family='"Liberation Sans", sans-serif' font-size="15.1" font-weight="normal" text-anchor="middle" fill="#000" >1000</text>
<line x1="815.19" y1="719.40" x2="815.19" y2="725.40" stroke="#000" stroke-width="1.3" />
<text x="815.2" y="740.5" font-family='"Liberation Sans", sans-serif' font-size="15.1" font-weight="normal" text-anchor="middle" fill="#000" >500</text>
<line x1="536.53" y1="719.40" x2="536.53" y2="722.90" stroke="#000" stroke-width="1.3" />
<line x1="579.40" y1="719.40" x2="579.40" y2="722.90" stroke="#000" stroke-width="1.3" />
<line x1="622.27" y1="719.40" x2="622.27" y2="722.90" stroke="#000" stroke-width="1.3" />
<line x1="665.14" y1="719.40" x2="665.14" y2="722.90" stroke="#000" stroke-width="1.3" />
<line x1="708.01" y1="719.40" x2="708.01" y2="722.90" stroke="#000" stroke-width="1.3" />
<line x1="750.88" y1="719.40" x2="750.88" y2="722.90" stroke="#000" stroke-width="1.3" />
<line x1="793.75" y1="719.40" x2="793.75" y2="722.90" stroke="#000" stroke-width="1.3" />
<text x="673.8" y="765.5" font-family='"Liberation Sans", sans-serif' font-size="21.8" font-weight="normal" text-anchor="middle" fill="#000" >Wavenumber (cm<tspan dy="-8.5" font-size="14.5">-1</tspan><tspan dy="8.5">)</tspan></text>
<text transform="translate(462.4,582.8) rotate(-90)" font-family='"Liberation Sans", sans-serif' font-size="22.2" font-weight="normal" text-anchor="middle" fill="#000" >Transmission (%)</text>
<path d="M515.1,497.6C516.2,497.6 519.5,497.4 522.0,497.3C524.5,497.2 527.5,497.1 530.0,497.0C532.5,496.9 535.1,496.7 536.7,496.8C538.3,496.9 538.7,497.1 539.5,497.6C540.3,498.2 541.0,498.7 541.7,500.1C542.4,501.5 542.9,503.2 543.5,506.0C544.1,508.8 544.8,513.0 545.5,516.7C546.2,520.5 547.1,524.7 548.0,528.5C548.9,532.3 549.6,535.8 550.6,539.5C551.6,543.2 552.6,547.1 553.7,550.5C554.8,553.9 556.0,557.3 557.0,559.8C558.0,562.3 558.7,563.8 559.5,565.5C560.3,567.2 561.2,568.9 562.0,570.0C562.8,571.1 563.5,571.9 564.3,572.4C565.1,572.9 565.7,573.4 566.6,573.3C567.5,573.2 568.6,572.6 569.5,572.0C570.4,571.4 571.1,570.2 572.2,569.5C573.3,568.8 574.7,568.1 576.0,567.6C577.3,567.1 578.5,566.9 579.8,566.2C581.0,565.5 582.2,564.6 583.5,563.5C584.8,562.4 586.1,561.0 587.4,559.8C588.7,558.5 589.9,557.3 591.2,556.0C592.5,554.7 594.0,553.3 595.1,552.2C596.2,551.1 597.1,550.1 598.0,549.2C598.9,548.4 599.7,547.2 600.6,547.1C601.5,547.0 602.5,548.0 603.5,548.4C604.5,548.8 605.7,549.6 606.5,549.2C607.3,548.8 607.9,547.0 608.5,546.0C609.1,545.0 609.4,544.5 610.3,543.3C611.2,542.0 612.7,540.0 614.0,538.5C615.3,537.0 616.4,535.7 617.9,534.4C619.4,533.1 621.3,531.7 623.0,530.5C624.7,529.3 626.2,528.4 628.1,527.3C630.0,526.2 632.4,524.9 634.5,523.8C636.6,522.7 638.7,521.7 640.8,520.5C642.9,519.3 644.9,518.1 647.0,516.8C649.1,515.5 651.3,514.1 653.5,512.8C655.7,511.5 657.9,510.3 660.0,509.0C662.1,507.7 664.1,506.3 666.2,505.2C668.3,504.1 670.4,503.1 672.5,502.1C674.6,501.1 676.8,500.3 678.9,499.4C681.0,498.5 682.9,497.6 685.0,496.8C687.1,496.0 689.9,494.9 691.6,494.3C693.3,493.7 694.0,493.5 695.0,493.2C696.0,492.9 697.1,492.5 697.9,492.5C698.7,492.5 699.4,492.8 700.0,493.2C700.6,493.6 701.1,493.7 701.7,495.1C702.3,496.5 703.1,498.8 703.7,501.5C704.3,504.2 705.0,508.4 705.5,511.6C706.0,514.9 706.4,517.6 706.8,521.0C707.2,524.4 707.7,528.2 708.1,531.9C708.5,535.6 709.0,539.6 709.4,543.0C709.8,546.4 710.2,550.5 710.6,552.2C711.0,553.9 711.4,553.1 711.8,553.4C712.2,553.7 712.7,553.4 713.1,554.2C713.5,555.1 714.0,557.1 714.4,558.5C714.8,559.9 715.2,561.2 715.7,562.4C716.2,563.6 716.8,565.0 717.3,565.8C717.8,566.6 718.5,567.3 719.0,567.4C719.5,567.5 720.0,567.0 720.5,566.4C721.0,565.8 721.4,565.4 722.0,563.6C722.6,561.8 723.4,558.2 724.0,555.5C724.6,552.8 725.3,549.1 725.8,547.1C726.3,545.1 726.8,544.6 727.2,543.8C727.6,542.9 728.0,543.1 728.4,542.0C728.8,540.9 729.2,538.4 729.5,537.0C729.8,535.6 730.1,534.5 730.4,533.9C730.7,533.3 731.0,533.4 731.3,533.5C731.6,533.6 731.9,533.4 732.2,534.4C732.5,535.4 732.7,537.8 732.9,539.5C733.1,541.2 733.1,543.3 733.5,544.6C733.9,545.9 734.8,546.7 735.5,547.5C736.2,548.3 737.1,549.3 737.8,549.2C738.5,549.1 739.0,547.8 739.5,546.8C740.0,545.8 740.5,544.5 741.1,543.3C741.7,542.0 742.4,540.3 743.0,539.3C743.6,538.2 744.1,537.0 744.9,537.0C745.6,537.0 746.6,538.4 747.5,539.0C748.4,539.6 749.2,540.8 750.0,540.8C750.8,540.8 751.7,539.6 752.5,538.8C753.3,537.9 754.1,537.0 755.0,535.7C755.9,534.4 756.8,532.5 757.6,531.0C758.5,529.5 759.4,527.7 760.1,526.8C760.8,525.9 761.2,526.0 761.7,525.8C762.2,525.6 762.7,525.3 763.2,525.5C763.7,525.7 764.2,526.6 764.8,527.0C765.3,527.4 765.9,528.2 766.5,528.1C767.1,528.0 767.7,527.1 768.2,526.2C768.8,525.4 769.2,525.0 769.8,523.0C770.4,521.0 771.3,517.2 772.0,514.5C772.7,511.8 773.2,508.9 774.1,506.5C775.0,504.1 776.2,502.1 777.2,500.2C778.2,498.3 779.5,496.3 780.4,495.1C781.3,493.9 781.9,493.7 782.6,493.2C783.3,492.7 784.1,491.9 784.7,492.0C785.3,492.1 785.8,493.3 786.3,494.0C786.8,494.7 787.4,495.5 788.0,496.3C788.6,497.1 789.4,498.2 790.0,499.0C790.6,499.8 791.3,500.7 791.9,500.9C792.5,501.1 793.2,500.6 793.8,500.4C794.4,500.1 794.8,499.4 795.7,499.4C796.7,499.4 798.2,500.1 799.5,500.3C800.8,500.5 801.9,500.7 803.3,500.7C804.7,500.7 806.3,500.5 807.8,500.3C809.3,500.1 811.0,500.1 812.2,499.4C813.4,498.7 813.9,497.1 814.8,496.0C815.6,494.9 816.5,493.3 817.3,492.5C818.1,491.7 819.0,491.4 819.8,491.0C820.6,490.6 821.8,490.5 822.3,490.0C822.8,489.5 822.8,488.7 823.0,488.0C823.2,487.3 823.5,486.1 823.6,485.7" fill="none" stroke="#d62424" stroke-width="1.5" stroke-linejoin="round" stroke-linecap="round" />
<text x="556.3" y="587.4" font-family='"Liberation Sans", sans-serif' font-size="10.6" font-weight="normal" text-anchor="start" fill="#1e1e1e" stroke="#1e1e1e" stroke-width="0.3">O-H</text>
<text x="598.5" y="561.6" font-family='"Liberation Sans", sans-serif' font-size="10.6" font-weight="normal" text-anchor="start" fill="#1e1e1e" stroke="#1e1e1e" stroke-width="0.3">-CH-</text>
<text x="707.8" y="579.3" font-family='"Liberation Sans", sans-serif' font-size="10.6" font-weight="normal" text-anchor="start" fill="#1e1e1e" stroke="#1e1e1e" stroke-width="0.3">C=O</text>
<text x="729.5" y="560.8" font-family='"Liberation Sans", sans-serif' font-size="10.6" font-weight="normal" text-anchor="start" fill="#1e1e1e" stroke="#1e1e1e" stroke-width="0.3">C-N</text>
<text x="758.5" y="540.0" font-family='"Liberation Sans", sans-serif' font-size="10.6" font-weight="normal" text-anchor="start" fill="#1e1e1e" stroke="#1e1e1e" stroke-width="0.3">C-O-C</text>
<text x="800.0" y="511.3" font-family='"Liberation Sans", sans-serif' font-size="10.6" font-weight="normal" text-anchor="start" fill="#1e1e1e" stroke="#1e1e1e" stroke-width="0.3">OH</text>
<line x1="959.20" y1="724.90" x2="959.20" y2="428.40" stroke="#000" stroke-width="1.6" />
<line x1="958.40" y1="724.10" x2="1283.80" y2="724.10" stroke="#000" stroke-width="1.6" />
<line x1="953.20" y1="724.10" x2="959.20" y2="724.10" stroke="#000" stroke-width="1.4" />
<text x="949.7" y="729.3" font-family='"Liberation Serif", serif' font-size="15.5" font-weight="normal" text-anchor="end" fill="#000" stroke="#000" stroke-width="0.25">0</text>
<line x1="953.20" y1="676.75" x2="959.20" y2="676.75" stroke="#000" stroke-width="1.4" />
<text x="949.7" y="682.0" font-family='"Liberation Serif", serif' font-size="15.5" font-weight="normal" text-anchor="end" fill="#000" stroke="#000" stroke-width="0.25">200</text>
<line x1="953.20" y1="629.40" x2="959.20" y2="629.40" stroke="#000" stroke-width="1.4" />
<text x="949.7" y="634.6" font-family='"Liberation Serif", serif' font-size="15.5" font-weight="normal" text-anchor="end" fill="#000" stroke="#000" stroke-width="0.25">400</text>
<line x1="953.20" y1="582.05" x2="959.20" y2="582.05" stroke="#000" stroke-width="1.4" />
<text x="949.7" y="587.3" font-family='"Liberation Serif", serif' font-size="15.5" font-weight="normal" text-anchor="end" fill="#000" stroke="#000" stroke-width="0.25">600</text>
<line x1="953.20" y1="534.70" x2="959.20" y2="534.70" stroke="#000" stroke-width="1.4" />
<text x="949.7" y="539.9" font-family='"Liberation Serif", serif' font-size="15.5" font-weight="normal" text-anchor="end" fill="#000" stroke="#000" stroke-width="0.25">800</text>
<line x1="953.20" y1="487.35" x2="959.20" y2="487.35" stroke="#000" stroke-width="1.4" />
<text x="949.7" y="492.6" font-family='"Liberation Serif", serif' font-size="15.5" font-weight="normal" text-anchor="end" fill="#000" stroke="#000" stroke-width="0.25">1000</text>
<line x1="953.20" y1="440.00" x2="959.20" y2="440.00" stroke="#000" stroke-width="1.4" />
<text x="949.7" y="445.2" font-family='"Liberation Serif", serif' font-size="15.5" font-weight="normal" text-anchor="end" fill="#000" stroke="#000" stroke-width="0.25">1200</text>
<line x1="955.90" y1="700.43" x2="959.20" y2="700.43" stroke="#000" stroke-width="1.4" />
<line x1="955.90" y1="653.08" x2="959.20" y2="653.08" stroke="#000" stroke-width="1.4" />
<line x1="955.90" y1="605.73" x2="959.20" y2="605.73" stroke="#000" stroke-width="1.4" />
<line x1="955.90" y1="558.38" x2="959.20" y2="558.38" stroke="#000" stroke-width="1.4" />
<line x1="955.90" y1="511.03" x2="959.20" y2="511.03" stroke="#000" stroke-width="1.4" />
<line x1="955.90" y1="463.68" x2="959.20" y2="463.68" stroke="#000" stroke-width="1.4" />
<line x1="1001.20" y1="724.10" x2="1001.20" y2="730.10" stroke="#000" stroke-width="1.4" />
<text x="1001.2" y="746.6" font-family='"Liberation Serif", serif' font-size="15.5" font-weight="normal" text-anchor="middle" fill="#000" stroke="#000" stroke-width="0.25">20</text>
<line x1="1085.20" y1="724.10" x2="1085.20" y2="730.10" stroke="#000" stroke-width="1.4" />
<text x="1085.2" y="746.6" font-family='"Liberation Serif", serif' font-size="15.5" font-weight="normal" text-anchor="middle" fill="#000" stroke="#000" stroke-width="0.25">40</text>
<line x1="1169.20" y1="724.10" x2="1169.20" y2="730.10" stroke="#000" stroke-width="1.4" />
<text x="1169.2" y="746.6" font-family='"Liberation Serif", serif' font-size="15.5" font-weight="normal" text-anchor="middle" fill="#000" stroke="#000" stroke-width="0.25">60</text>
<line x1="1253.20" y1="724.10" x2="1253.20" y2="730.10" stroke="#000" stroke-width="1.4" />
<text x="1253.2" y="746.6" font-family='"Liberation Serif", serif' font-size="15.5" font-weight="normal" text-anchor="middle" fill="#000" stroke="#000" stroke-width="0.25">80</text>
<line x1="959.20" y1="724.10" x2="959.20" y2="727.40" stroke="#000" stroke-width="1.4" />
<line x1="1043.20" y1="724.10" x2="1043.20" y2="727.40" stroke="#000" stroke-width="1.4" />
<line x1="1127.20" y1="724.10" x2="1127.20" y2="727.40" stroke="#000" stroke-width="1.4" />
<line x1="1211.20" y1="724.10" x2="1211.20" y2="727.40" stroke="#000" stroke-width="1.4" />
<text x="1129.6" y="765.2" font-family='"Liberation Serif", serif' font-size="18.4" font-weight="bold" text-anchor="middle" fill="#000" >2θ (degree)</text>
<text transform="translate(906.3,570.2) rotate(-90)" font-family='"Liberation Serif", serif' font-size="17" font-weight="normal" text-anchor="middle" fill="#000" textLength="142" lengthAdjust="spacing">Intensity (a.u.)</text>
<path d="M959.2,588.8 959.4,588.8 959.6,588.3 959.8,596.2 960.0,588.4 960.3,586.2 960.5,582.8 960.7,585.9 960.9,584.9 961.1,578.3 961.3,582.7 961.5,594.3 961.7,580.3 961.9,586.7 962.1,580.4 962.4,591.5 962.6,600.2 962.8,588.0 963.0,580.3 963.2,591.2 963.4,584.3 963.6,585.4 963.8,579.6 964.0,581.1 964.2,586.7 964.5,587.0 964.7,584.1 964.9,568.6 965.1,577.6 965.3,573.5 965.5,573.3 965.7,582.1 965.9,575.7 966.1,589.7 966.3,582.8 966.6,576.4 966.8,576.8 967.0,583.9 967.2,574.5 967.4,583.2 967.6,584.0 967.8,581.0 968.0,582.2 968.2,576.0 968.4,576.5 968.7,576.6 968.9,575.6 969.1,582.8 969.3,569.1 969.5,576.1 969.7,566.1 969.9,574.4 970.1,575.6 970.3,565.9 970.5,587.9 970.8,569.3 971.0,576.8 971.2,572.7 971.4,574.8 971.6,563.8 971.8,570.8 972.0,578.3 972.2,565.3 972.4,570.1 972.6,561.7 972.9,577.0 973.1,558.6 973.3,578.4 973.5,559.0 973.7,563.5 973.9,574.6 974.1,565.7 974.3,570.0 974.5,564.1 974.7,564.1 975.0,560.3 975.2,571.4 975.4,561.6 975.6,568.1 975.8,556.8 976.0,555.6 976.2,559.0 976.4,560.6 976.6,563.3 976.8,560.3 977.1,557.4 977.3,570.1 977.5,557.6 977.7,553.7 977.9,554.7 978.1,558.9 978.3,566.0 978.5,561.1 978.7,553.1 978.9,553.3 979.2,549.1 979.4,554.6 979.6,540.6 979.8,555.3 980.0,553.6 980.2,539.2 980.4,554.5 980.6,555.5 980.8,550.5 981.0,562.8 981.3,537.9 981.5,555.2 981.7,547.0 981.9,557.0 982.1,550.9 982.3,539.5 982.5,548.1 982.7,538.7 982.9,542.8 983.1,536.7 983.4,531.9 983.6,551.3 983.8,548.4 984.0,539.4 984.2,545.2 984.4,548.7 984.6,537.3 984.8,537.7 985.0,530.7 985.2,541.3 985.5,542.7 985.7,531.7 985.9,533.9 986.1,532.4 986.3,533.6 986.5,525.8 986.7,542.3 986.9,528.6 987.1,540.6 987.3,532.3 987.6,531.8 987.8,537.7 988.0,541.7 988.2,523.1 988.4,523.6 988.6,528.4 988.8,530.8 989.0,539.0 989.2,524.5 989.4,529.0 989.7,521.8 989.9,526.3 990.1,526.1 990.3,522.7 990.5,520.8 990.7,514.4 990.9,524.0 991.1,517.2 991.3,515.9 991.5,514.3 991.8,528.2 992.0,516.2 992.2,512.8 992.4,521.7 992.6,509.5 992.8,502.7 993.0,524.8 993.2,502.3 993.4,509.5 993.6,506.4 993.9,520.6 994.1,508.0 994.3,510.6 994.5,505.2 994.7,495.6 994.9,504.3 995.1,508.8 995.3,509.5 995.5,492.7 995.7,506.1 996.0,506.2 996.2,498.0 996.4,501.1 996.6,494.7 996.8,499.5 997.0,498.3 997.2,501.9 997.4,501.9 997.6,490.1 997.8,481.0 998.1,493.5 998.3,493.3 998.5,500.9 998.7,494.0 998.9,495.1 999.1,490.7 999.3,493.9 999.5,492.3 999.7,484.7 999.9,478.6 1000.2,489.4 1000.4,487.8 1000.6,477.7 1000.8,491.1 1001.0,480.0 1001.2,486.5 1001.4,480.4 1001.6,480.2 1001.8,483.9 1002.0,483.4 1002.3,483.0 1002.5,480.3 1002.7,481.4 1002.9,476.7 1003.1,469.5 1003.3,482.7 1003.5,470.8 1003.7,479.0 1003.9,473.9 1004.1,473.6 1004.4,483.3 1004.6,466.0 1004.8,458.9 1005.0,471.7 1005.2,459.8 1005.4,479.5 1005.6,485.6 1005.8,463.5 1006.0,474.5 1006.2,465.3 1006.5,474.9 1006.7,472.5 1006.9,467.3 1007.1,467.5 1007.3,475.4 1007.5,464.1 1007.7,466.3 1007.9,471.8 1008.1,469.6 1008.3,469.5 1008.6,471.1 1008.8,472.6 1009.0,467.2 1009.2,477.2 1009.4,474.1 1009.6,470.1 1009.8,469.7 1010.0,461.8 1010.2,482.9 1010.4,479.4 1010.7,474.6 1010.9,474.1 1011.1,472.8 1011.3,476.8 1011.5,472.4 1011.7,475.9 1011.9,476.4 1012.1,467.6 1012.3,475.1 1012.5,471.6 1012.8,475.8 1013.0,477.7 1013.2,484.4 1013.4,479.2 1013.6,477.3 1013.8,474.8 1014.0,481.1 1014.2,487.6 1014.4,490.8 1014.6,480.2 1014.9,484.0 1015.1,489.0 1015.3,487.7 1015.5,482.9 1015.7,480.7 1015.9,482.1 1016.1,503.2 1016.3,493.6 1016.5,482.8 1016.7,492.4 1017.0,495.0 1017.2,485.3 1017.4,488.2 1017.6,482.8 1017.8,484.3 1018.0,501.9 1018.2,495.3 1018.4,492.3 1018.6,508.6 1018.8,507.9 1019.1,509.9 1019.3,504.1 1019.5,518.7 1019.7,511.0 1019.9,507.0 1020.1,507.6 1020.3,495.8 1020.5,504.9 1020.7,512.1 1020.9,511.1 1021.2,510.0 1021.4,509.5 1021.6,502.6 1021.8,515.3 1022.0,519.4 1022.2,507.6 1022.4,511.9 1022.6,520.8 1022.8,526.5 1023.0,516.1 1023.3,518.2 1023.5,527.3 1023.7,525.7 1023.9,523.5 1024.1,529.6 1024.3,525.3 1024.5,523.2 1024.7,536.9 1024.9,530.3 1025.1,538.5 1025.4,529.0 1025.6,531.5 1025.8,529.2 1026.0,532.4 1026.2,532.9 1026.4,527.3 1026.6,536.7 1026.8,531.7 1027.0,542.2 1027.2,544.3 1027.5,537.6 1027.7,533.4 1027.9,542.9 1028.1,533.9 1028.3,538.4 1028.5,547.6 1028.7,545.8 1028.9,543.9 1029.1,553.5 1029.3,552.7 1029.6,548.0 1029.8,542.9 1030.0,549.1 1030.2,550.5 1030.4,564.8 1030.6,553.1 1030.8,554.9 1031.0,546.2 1031.2,553.3 1031.4,553.0 1031.7,545.6 1031.9,560.7 1032.1,568.7 1032.3,564.3 1032.5,569.4 1032.7,566.1 1032.9,569.4 1033.1,557.2 1033.3,556.1 1033.5,561.9 1033.8,559.0 1034.0,556.1 1034.2,565.8 1034.4,558.0 1034.6,563.2 1034.8,552.8 1035.0,557.8 1035.2,544.3 1035.4,574.2 1035.6,558.0 1035.9,565.7 1036.1,565.4 1036.3,571.1 1036.5,572.3 1036.7,570.1 1036.9,576.4 1037.1,581.6 1037.3,575.3 1037.5,558.5 1037.7,577.9 1038.0,572.0 1038.2,579.9 1038.4,570.5 1038.6,581.0 1038.8,577.2 1039.0,575.8 1039.2,584.8 1039.4,589.9 1039.6,581.5 1039.8,566.3 1040.1,567.2 1040.3,574.5 1040.5,572.7 1040.7,566.4 1040.9,580.5 1041.1,576.8 1041.3,586.7 1041.5,582.7 1041.7,570.4 1041.9,587.5 1042.2,584.2 1042.4,574.2 1042.6,591.3 1042.8,595.5 1043.0,577.0 1043.2,585.4 1043.4,579.9 1043.6,588.4 1043.8,585.2 1044.0,592.7 1044.3,588.4 1044.5,582.9 1044.7,578.2 1044.9,586.7 1045.1,589.1 1045.3,585.5 1045.5,593.4 1045.7,581.5 1045.9,589.5 1046.1,599.1 1046.4,595.7 1046.6,596.1 1046.8,591.0 1047.0,592.2 1047.2,593.4 1047.4,595.7 1047.6,583.5 1047.8,584.5 1048.0,601.3 1048.2,594.2 1048.5,602.4 1048.7,585.3 1048.9,589.7 1049.1,593.7 1049.3,600.2 1049.5,589.7 1049.7,599.1 1049.9,584.7 1050.1,592.2 1050.3,591.0 1050.6,590.0 1050.8,595.0 1051.0,594.4 1051.2,596.0 1051.4,584.1 1051.6,597.6 1051.8,593.1 1052.0,590.7 1052.2,603.3 1052.4,602.8 1052.7,592.1 1052.9,598.9 1053.1,587.7 1053.3,603.7 1053.5,599.1 1053.7,594.9 1053.9,600.3 1054.1,601.5 1054.3,593.0 1054.5,593.1 1054.8,598.5 1055.0,603.6 1055.2,591.1 1055.4,607.1 1055.6,608.2 1055.8,608.3 1056.0,611.9 1056.2,605.7 1056.4,606.9 1056.6,603.4 1056.9,605.9 1057.1,602.2 1057.3,601.0 1057.5,616.9 1057.7,606.8 1057.9,601.5 1058.1,610.8 1058.3,606.6 1058.5,602.8 1058.7,594.0 1059.0,608.2 1059.2,595.5 1059.4,608.4 1059.6,599.1 1059.8,606.0 1060.0,610.6 1060.2,614.0 1060.4,603.9 1060.6,604.7 1060.8,619.8 1061.1,612.7 1061.3,602.2 1061.5,619.8 1061.7,599.2 1061.9,597.5 1062.1,598.6 1062.3,601.8 1062.5,613.7 1062.7,617.8 1062.9,609.6 1063.2,613.0 1063.4,615.8 1063.6,609.5 1063.8,614.5 1064.0,605.6 1064.2,603.2 1064.4,605.4 1064.6,614.6 1064.8,606.4 1065.0,607.4 1065.3,616.7 1065.5,612.5 1065.7,612.4 1065.9,606.5 1066.1,606.6 1066.3,611.1 1066.5,608.4 1066.7,605.0 1066.9,602.6 1067.1,611.0 1067.4,610.7 1067.6,614.0 1067.8,614.6 1068.0,613.3 1068.2,608.6 1068.4,614.4 1068.6,621.4 1068.8,613.1 1069.0,621.4 1069.2,612.9 1069.5,615.3 1069.7,621.4 1069.9,615.9 1070.1,621.1 1070.3,614.6 1070.5,613.5 1070.7,616.9 1070.9,611.4 1071.1,614.0 1071.3,624.8 1071.6,599.2 1071.8,618.5 1072.0,618.2 1072.2,622.6 1072.4,625.1 1072.6,621.0 1072.8,615.8 1073.0,619.6 1073.2,616.1 1073.4,620.0 1073.7,615.3 1073.9,616.6 1074.1,620.3 1074.3,615.3 1074.5,625.3 1074.7,619.9 1074.9,615.9 1075.1,618.7 1075.3,630.8 1075.5,623.5 1075.8,622.4 1076.0,621.7 1076.2,623.0 1076.4,626.4 1076.6,612.4 1076.8,610.9 1077.0,633.3 1077.2,621.1 1077.4,621.4 1077.6,620.9 1077.8,617.0 1078.1,621.2 1078.3,620.4 1078.5,623.8 1078.7,619.4 1078.9,621.5 1079.1,625.7 1079.3,628.2 1079.5,615.0 1079.7,620.3 1079.9,621.2 1080.2,624.5 1080.4,626.6 1080.6,627.0 1080.8,621.1 1081.0,627.3 1081.2,621.0 1081.4,624.1 1081.6,624.9 1081.8,618.5 1082.0,623.4 1082.3,624.0 1082.5,618.6 1082.7,621.5 1082.9,619.1 1083.1,619.0 1083.3,633.8 1083.5,623.6 1083.7,624.5 1083.9,631.8 1084.1,628.6 1084.4,624.3 1084.6,624.6 1084.8,633.8 1085.0,633.3 1085.2,623.4 1085.4,629.7 1085.6,630.2 1085.8,623.3 1086.0,623.1 1086.2,620.6 1086.5,622.4 1086.7,630.1 1086.9,625.5 1087.1,631.4 1087.3,635.6 1087.5,633.8 1087.7,627.0 1087.9,635.0 1088.1,641.1 1088.3,624.3 1088.6,637.1 1088.8,637.2 1089.0,623.2 1089.2,626.6 1089.4,622.8 1089.6,627.1 1089.8,619.3 1090.0,626.0 1090.2,625.1 1090.4,636.7 1090.7,640.3 1090.9,634.2 1091.1,627.7 1091.3,639.0 1091.5,629.9 1091.7,629.6 1091.9,636.7 1092.1,623.9 1092.3,631.8 1092.5,625.7 1092.8,629.1 1093.0,627.6 1093.2,636.8 1093.4,626.0 1093.6,630.5 1093.8,632.1 1094.0,634.7 1094.2,642.0 1094.4,637.6 1094.6,627.1 1094.9,625.0 1095.1,636.0 1095.3,629.7 1095.5,636.5 1095.7,631.3 1095.9,643.0 1096.1,637.9 1096.3,641.9 1096.5,639.1 1096.7,631.3 1097.0,629.3 1097.2,638.2 1097.4,626.0 1097.6,631.0 1097.8,630.2 1098.0,647.2 1098.2,636.5 1098.4,640.2 1098.6,632.2 1098.8,646.3 1099.1,643.2 1099.3,635.4 1099.5,642.5 1099.7,636.4 1099.9,643.3 1100.1,639.5 1100.3,635.7 1100.5,643.7 1100.7,643.7 1100.9,638.0 1101.2,628.7 1101.4,641.8 1101.6,639.7 1101.8,631.4 1102.0,630.9 1102.2,633.4 1102.4,640.0 1102.6,645.3 1102.8,654.0 1103.0,635.5 1103.3,641.9 1103.5,640.2 1103.7,639.8 1103.9,622.6 1104.1,631.6 1104.3,646.8 1104.5,639.0 1104.7,638.7 1104.9,636.6 1105.1,635.6 1105.4,638.9 1105.6,640.9 1105.8,644.3 1106.0,650.6 1106.2,644.2 1106.4,642.0 1106.6,646.7 1106.8,643.4 1107.0,637.2 1107.2,643.8 1107.5,652.1 1107.7,641.3 1107.9,646.3 1108.1,647.4 1108.3,652.3 1108.5,646.7 1108.7,650.9 1108.9,641.7 1109.1,646.1 1109.3,645.2 1109.6,647.3 1109.8,654.9 1110.0,647.7 1110.2,645.4 1110.4,642.5 1110.6,638.2 1110.8,654.8 1111.0,655.6 1111.2,652.6 1111.4,646.7 1111.7,634.8 1111.9,644.7 1112.1,652.8 1112.3,649.9 1112.5,655.2 1112.7,640.9 1112.9,645.1 1113.1,645.3 1113.3,644.9 1113.5,653.2 1113.8,663.3 1114.0,649.8 1114.2,650.5 1114.4,652.7 1114.6,655.5 1114.8,652.1 1115.0,653.6 1115.2,643.4 1115.4,652.2 1115.6,649.9 1115.9,646.7 1116.1,651.7 1116.3,644.3 1116.5,648.1 1116.7,658.4 1116.9,665.5 1117.1,652.2 1117.3,654.2 1117.5,656.7 1117.7,648.6 1118.0,659.3 1118.2,666.3 1118.4,660.0 1118.6,656.9 1118.8,653.8 1119.0,651.0 1119.2,659.8 1119.4,649.3 1119.6,673.1 1119.8,647.9 1120.1,657.7 1120.3,654.6 1120.5,649.8 1120.7,658.9 1120.9,652.3 1121.1,659.6 1121.3,667.5 1121.5,658.9 1121.7,648.2 1121.9,659.6 1122.2,653.2 1122.4,653.5 1122.6,648.9 1122.8,655.2 1123.0,664.3 1123.2,659.4 1123.4,647.5 1123.6,657.1 1123.8,656.2 1124.0,659.4 1124.3,666.0 1124.5,654.9 1124.7,656.2 1124.9,666.2 1125.1,669.9 1125.3,652.8 1125.5,656.3 1125.7,655.6 1125.9,666.6 1126.1,647.2 1126.4,658.9 1126.6,650.6 1126.8,661.6 1127.0,652.4 1127.2,656.3 1127.4,660.8 1127.6,668.7 1127.8,666.8 1128.0,658.2 1128.2,659.8 1128.5,666.1 1128.7,668.6 1128.9,668.8 1129.1,660.5 1129.3,671.3 1129.5,659.7 1129.7,659.1 1129.9,660.2 1130.1,658.9 1130.3,653.6 1130.6,662.6 1130.8,673.3 1131.0,666.9 1131.2,656.3 1131.4,662.4 1131.6,657.6 1131.8,668.3 1132.0,656.9 1132.2,659.6 1132.4,658.1 1132.7,662.1 1132.9,669.8 1133.1,663.4 1133.3,661.9 1133.5,659.2 1133.7,664.2 1133.9,675.7 1134.1,663.2 1134.3,674.9 1134.5,666.4 1134.8,665.4 1135.0,674.0 1135.2,667.7 1135.4,666.0 1135.6,674.5 1135.8,664.8 1136.0,665.9 1136.2,667.4 1136.4,663.3 1136.6,670.1 1136.9,662.8 1137.1,658.4 1137.3,661.7 1137.5,661.3 1137.7,671.0 1137.9,669.9 1138.1,656.1 1138.3,650.2 1138.5,671.5 1138.7,656.3 1139.0,669.3 1139.2,655.7 1139.4,658.4 1139.6,667.2 1139.8,666.9 1140.0,667.7 1140.2,664.4 1140.4,676.6 1140.6,669.8 1140.8,668.6 1141.1,665.1 1141.3,669.8 1141.5,664.4 1141.7,668.1 1141.9,662.0 1142.1,660.0 1142.3,656.9 1142.5,673.3 1142.7,665.0 1142.9,664.7 1143.2,672.9 1143.4,668.8 1143.6,671.1 1143.8,663.5 1144.0,673.9 1144.2,675.4 1144.4,668.2 1144.6,660.9 1144.8,670.0 1145.0,663.9 1145.3,670.9 1145.5,663.7 1145.7,669.2 1145.9,665.9 1146.1,658.1 1146.3,670.4 1146.5,670.3 1146.7,664.4 1146.9,673.5 1147.1,667.7 1147.4,682.7 1147.6,672.7 1147.8,675.4 1148.0,674.8 1148.2,677.9 1148.4,671.4 1148.6,670.3 1148.8,672.5 1149.0,682.9 1149.2,674.2 1149.5,665.2 1149.7,674.8 1149.9,673.9 1150.1,662.6 1150.3,676.9 1150.5,673.7 1150.7,667.4 1150.9,672.5 1151.1,652.9 1151.3,680.5 1151.6,656.8 1151.8,676.7 1152.0,663.3 1152.2,670.6 1152.4,674.9 1152.6,653.8 1152.8,660.5 1153.0,675.6 1153.2,668.6 1153.4,669.1 1153.7,667.7 1153.9,662.6 1154.1,671.4 1154.3,675.3 1154.5,668.3 1154.7,678.0 1154.9,670.5 1155.1,668.8 1155.3,672.2 1155.5,667.6 1155.8,675.1 1156.0,663.1 1156.2,672.9 1156.4,674.2 1156.6,678.0 1156.8,668.4 1157.0,673.5 1157.2,669.7 1157.4,675.6 1157.6,675.3 1157.9,672.7 1158.1,680.7 1158.3,680.0 1158.5,671.4 1158.7,672.7 1158.9,663.0 1159.1,681.7 1159.3,670.0 1159.5,666.2 1159.7,670.3 1160.0,670.1 1160.2,669.0 1160.4,671.2 1160.6,665.9 1160.8,671.1 1161.0,679.6 1161.2,667.4 1161.4,671.2 1161.6,682.3 1161.8,667.0 1162.1,668.5 1162.3,672.2 1162.5,671.8 1162.7,674.8 1162.9,682.4 1163.1,668.5 1163.3,677.8 1163.5,679.0 1163.7,665.3 1163.9,683.6 1164.2,678.1 1164.4,680.5 1164.6,671.1 1164.8,667.7 1165.0,674.3 1165.2,673.9 1165.4,677.9 1165.6,681.1 1165.8,674.5 1166.0,669.2 1166.3,675.1 1166.5,677.6 1166.7,673.5 1166.9,687.0 1167.1,673.6 1167.3,674.0 1167.5,665.7 1167.7,672.1 1167.9,672.6 1168.1,663.5 1168.4,677.8 1168.6,664.6 1168.8,682.5 1169.0,680.4 1169.2,669.9 1169.4,668.6 1169.6,662.0 1169.8,670.1 1170.0,679.9 1170.2,680.0 1170.5,667.3 1170.7,678.8 1170.9,678.6 1171.1,674.0 1171.3,687.1 1171.5,673.9 1171.7,671.3 1171.9,688.2 1172.1,678.9 1172.3,677.0 1172.6,684.0 1172.8,686.7 1173.0,676.7 1173.2,679.9 1173.4,685.7 1173.6,683.4 1173.8,677.4 1174.0,683.7 1174.2,683.7 1174.4,663.4 1174.7,673.5 1174.9,677.1 1175.1,676.1 1175.3,668.4 1175.5,686.2 1175.7,679.8 1175.9,679.5 1176.1,673.1 1176.3,663.1 1176.5,667.0 1176.8,671.9 1177.0,679.7 1177.2,676.2 1177.4,673.6 1177.6,682.3 1177.8,679.9 1178.0,685.1 1178.2,669.3 1178.4,678.9 1178.6,681.3 1178.9,681.5 1179.1,682.5 1179.3,672.6 1179.5,669.0 1179.7,685.5 1179.9,679.6 1180.1,669.2 1180.3,689.1 1180.5,687.2 1180.7,671.5 1181.0,670.5 1181.2,677.2 1181.4,681.7 1181.6,684.8 1181.8,670.2 1182.0,677.4 1182.2,680.3 1182.4,661.7 1182.6,682.7 1182.8,687.4 1183.1,675.1 1183.3,676.0 1183.5,676.1 1183.7,682.3 1183.9,684.4 1184.1,673.8 1184.3,682.7 1184.5,688.6 1184.7,678.0 1184.9,680.8 1185.2,677.4 1185.4,678.0 1185.6,687.8 1185.8,674.1 1186.0,672.3 1186.2,674.3 1186.4,670.0 1186.6,687.5 1186.8,666.4 1187.0,672.4 1187.3,665.2 1187.5,675.8 1187.7,687.0 1187.9,683.8 1188.1,675.5 1188.3,677.0 1188.5,688.4 1188.7,670.7 1188.9,667.5 1189.1,665.2 1189.4,676.9 1189.6,679.2 1189.8,684.4 1190.0,670.4 1190.2,678.7 1190.4,680.4 1190.6,684.6 1190.8,678.7 1191.0,682.8 1191.2,687.0 1191.5,676.4 1191.7,688.1 1191.9,681.2 1192.1,687.4 1192.3,678.8 1192.5,678.9 1192.7,679.7 1192.9,676.2 1193.1,685.1 1193.3,681.5 1193.6,672.8 1193.8,675.1 1194.0,681.1 1194.2,673.9 1194.4,666.0 1194.6,688.8 1194.8,682.0 1195.0,677.5 1195.2,673.9 1195.4,677.3 1195.7,675.8 1195.9,677.7 1196.1,683.1 1196.3,682.0 1196.5,674.8 1196.7,681.6 1196.9,682.5 1197.1,675.3 1197.3,676.8 1197.5,680.5 1197.8,678.5 1198.0,675.2 1198.2,682.4 1198.4,671.3 1198.6,679.9 1198.8,674.4 1199.0,674.4 1199.2,675.2 1199.4,683.4 1199.6,687.1 1199.9,682.0 1200.1,686.5 1200.3,675.9 1200.5,690.0 1200.7,683.4 1200.9,683.7 1201.1,679.9 1201.3,682.8 1201.5,686.2 1201.7,676.5 1202.0,690.7 1202.2,683.4 1202.4,688.9 1202.6,682.6 1202.8,683.7 1203.0,685.4 1203.2,671.9 1203.4,681.7 1203.6,674.7 1203.8,682.2 1204.1,688.0 1204.3,681.4 1204.5,686.5 1204.7,679.0 1204.9,686.4 1205.1,681.0 1205.3,694.1 1205.5,673.4 1205.7,677.9 1205.9,677.1 1206.2,687.8 1206.4,680.4 1206.6,683.3 1206.8,676.7 1207.0,676.3 1207.2,688.2 1207.4,676.9 1207.6,681.8 1207.8,695.2 1208.0,686.8 1208.3,678.0 1208.5,673.7 1208.7,684.4 1208.9,684.0 1209.1,682.6 1209.3,685.4 1209.5,679.0 1209.7,680.5 1209.9,684.6 1210.1,675.8 1210.4,689.9 1210.6,683.1 1210.8,686.4 1211.0,684.5 1211.2,678.1 1211.4,690.3 1211.6,679.0 1211.8,680.2 1212.0,678.1 1212.2,673.5 1212.5,678.1 1212.7,677.5 1212.9,684.9 1213.1,689.9 1213.3,685.2 1213.5,681.8 1213.7,676.7 1213.9,680.2 1214.1,676.0 1214.3,696.1 1214.6,684.5 1214.8,687.8 1215.0,680.9 1215.2,681.4 1215.4,683.3 1215.6,675.0 1215.8,682.7 1216.0,692.3 1216.2,674.6 1216.4,675.6 1216.7,681.6 1216.9,683.9 1217.1,679.6 1217.3,682.6 1217.5,689.1 1217.7,660.9 1217.9,679.9 1218.1,688.3 1218.3,681.6 1218.5,671.8 1218.8,684.6 1219.0,690.7 1219.2,681.5 1219.4,678.8 1219.6,684.1 1219.8,675.5 1220.0,683.9 1220.2,678.2 1220.4,683.9 1220.6,685.2 1220.9,666.6 1221.1,691.9 1221.3,679.8 1221.5,686.2 1221.7,682.2 1221.9,691.8 1222.1,683.6 1222.3,676.8 1222.5,681.0 1222.7,684.8 1223.0,677.8 1223.2,685.2 1223.4,672.8 1223.6,682.9 1223.8,691.5 1224.0,680.8 1224.2,687.2 1224.4,684.0 1224.6,684.4 1224.8,672.1 1225.1,689.4 1225.3,686.0 1225.5,680.6 1225.7,682.4 1225.9,675.0 1226.1,675.1 1226.3,679.5 1226.5,684.4 1226.7,685.4 1226.9,686.2 1227.2,685.9 1227.4,687.1 1227.6,680.4 1227.8,678.3 1228.0,682.6 1228.2,674.9 1228.4,686.6 1228.6,683.1 1228.8,674.4 1229.0,683.0 1229.3,686.4 1229.5,682.1 1229.7,683.9 1229.9,686.4 1230.1,677.0 1230.3,675.9 1230.5,680.4 1230.7,683.9 1230.9,687.5 1231.1,688.9 1231.4,680.2 1231.6,678.8 1231.8,681.5 1232.0,682.4 1232.2,695.2 1232.4,673.7 1232.6,684.3 1232.8,681.5 1233.0,691.9 1233.2,690.4 1233.5,686.7 1233.7,688.2 1233.9,684.1 1234.1,689.0 1234.3,677.4 1234.5,686.0 1234.7,690.1 1234.9,688.1 1235.1,681.2 1235.3,685.4 1235.6,690.1 1235.8,677.4 1236.0,684.0 1236.2,685.3 1236.4,682.2 1236.6,683.7 1236.8,689.1 1237.0,689.3 1237.2,677.9 1237.4,680.7 1237.7,686.9 1237.9,677.7 1238.1,690.1 1238.3,685.7 1238.5,685.3 1238.7,686.4 1238.9,683.3 1239.1,686.1 1239.3,692.2 1239.5,682.1 1239.8,684.7 1240.0,687.5 1240.2,677.0 1240.4,672.0 1240.6,685.2 1240.8,688.1 1241.0,686.1 1241.2,672.4 1241.4,683.1 1241.6,689.2 1241.9,686.9 1242.1,686.0 1242.3,692.6 1242.5,684.9 1242.7,678.8 1242.9,680.4 1243.1,686.8 1243.3,685.2 1243.5,690.9 1243.7,684.2 1244.0,680.5 1244.2,691.1 1244.4,689.9 1244.6,682.8 1244.8,685.7 1245.0,683.1 1245.2,682.4 1245.4,687.7 1245.6,683.4 1245.8,686.2 1246.1,682.7 1246.3,690.0 1246.5,683.4 1246.7,678.5 1246.9,693.5 1247.1,684.1 1247.3,681.6 1247.5,674.0 1247.7,679.9 1247.9,685.8 1248.2,679.6 1248.4,696.3 1248.6,692.5 1248.8,695.8 1249.0,690.5 1249.2,687.1 1249.4,677.0 1249.6,686.6 1249.8,680.8 1250.0,690.9 1250.3,684.2 1250.5,687.1 1250.7,685.8 1250.9,689.0 1251.1,682.7 1251.3,688.0 1251.5,684.2 1251.7,695.9 1251.9,687.5 1252.1,685.0 1252.4,690.3 1252.6,689.2 1252.8,693.6 1253.0,683.5 1253.2,689.3 1253.4,683.4 1253.6,692.1 1253.8,698.0 1254.0,685.2 1254.2,692.5 1254.5,692.4 1254.7,682.5 1254.9,686.7 1255.1,688.4 1255.3,688.4 1255.5,692.9 1255.7,687.9 1255.9,687.9 1256.1,681.1 1256.3,680.6 1256.6,693.6 1256.8,695.0 1257.0,686.8 1257.2,688.7 1257.4,680.2 1257.6,679.9 1257.8,682.9 1258.0,687.6 1258.2,686.8 1258.4,694.8 1258.7,687.7 1258.9,686.0 1259.1,688.6 1259.3,690.9 1259.5,691.7 1259.7,684.2 1259.9,690.7 1260.1,687.1 1260.3,698.5 1260.5,691.7 1260.8,680.2 1261.0,691.3 1261.2,703.7 1261.4,689.5 1261.6,688.6 1261.8,686.2 1262.0,690.6 1262.2,693.1 1262.4,688.7 1262.6,714.6 1262.9,693.9 1263.1,695.3 1263.3,672.9 1263.5,684.8 1263.7,690.1 1263.9,697.1 1264.1,688.4 1264.3,684.9 1264.5,690.9 1264.7,692.9 1265.0,699.3 1265.2,695.3 1265.4,687.4 1265.6,697.2 1265.8,689.0 1266.0,690.4 1266.2,679.6 1266.4,692.8 1266.6,695.7 1266.8,706.0 1267.1,685.4 1267.3,692.2 1267.5,686.6 1267.7,703.1 1267.9,688.0 1268.1,695.7 1268.3,691.4 1268.5,691.1 1268.7,685.5 1268.9,696.0 1269.2,698.8 1269.4,706.9 1269.6,697.3 1269.8,696.2 1270.0,687.7 1270.2,687.6 1270.4,709.3 1270.6,682.7 1270.8,705.4 1271.0,702.8 1271.3,707.7 1271.5,700.6 1271.7,693.8 1271.9,678.4 1272.1,687.4 1272.3,690.4 1272.5,699.8 1272.7,694.0 1272.9,695.7 1273.1,692.9 1273.4,697.5 1273.6,711.4 1273.8,701.4 1274.0,690.9 1274.2,690.5 1274.4,702.7 1274.6,686.1 1274.8,691.3 1275.0,694.3 1275.2,697.2 1275.5,697.5 1275.7,704.1 1275.9,703.6 1276.1,701.4 1276.3,693.6 1276.5,698.3 1276.7,693.9 1276.9,694.8 1277.1,698.9 1277.3,706.8 1277.6,697.3 1277.8,695.6 1278.0,694.4 1278.2,693.0 1278.4,701.9 1278.6,704.6 1278.8,695.5 1279.0,693.6 1279.2,700.2 1279.4,692.5 1279.7,691.9 1279.9,694.2 1280.1,702.7 1280.3,693.7 1280.5,697.8 1280.7,693.9 1280.9,699.9 1281.1,700.9 1281.3,691.0 1281.5,700.3 1281.8,696.4 1282.0,704.6 1282.2,711.2 1282.4,697.2 1282.6,691.6 1282.8,704.7 1283.0,696.6 1283.2,707.9 1283.4,699.4 1283.6,703.3 1283.9,698.6" fill="none" stroke="#777" stroke-width="0.55" stroke-linejoin="bevel"/>
<path d="M959.2,589.6 959.3,598.7 959.5,583.0 959.6,587.9 959.8,579.9 959.9,589.9 960.1,584.9 960.2,593.7 960.4,585.0 960.5,590.2 960.7,587.0 960.8,591.3 961.0,589.3 961.1,587.5 961.3,586.5 961.4,587.8 961.6,582.7 961.7,586.2 961.8,586.0 962.0,589.3 962.1,588.4 962.3,586.2 962.4,582.6 962.6,584.1 962.7,584.9 962.9,585.1 963.0,580.3 963.2,582.8 963.3,585.3 963.5,582.5 963.6,586.0 963.8,582.6 963.9,581.1 964.1,582.8 964.2,589.9 964.3,581.3 964.5,580.3 964.6,578.4 964.8,588.1 964.9,579.1 965.1,587.8 965.2,577.4 965.4,584.5 965.5,586.6 965.7,581.7 965.8,584.7 966.0,578.0 966.1,583.9 966.3,582.7 966.4,580.9 966.6,586.0 966.7,578.2 966.8,576.6 967.0,583.4 967.1,584.3 967.3,574.1 967.4,579.1 967.6,575.5 967.7,582.0 967.9,579.2 968.0,572.6 968.2,580.8 968.3,581.1 968.5,578.0 968.6,573.8 968.8,578.7 968.9,576.2 969.0,575.0 969.2,579.3 969.3,576.7 969.5,574.4 969.6,580.0 969.8,580.6 969.9,572.8 970.1,576.6 970.2,569.5 970.4,577.9 970.5,576.7 970.7,578.0 970.8,570.7 971.0,573.1 971.1,567.5 971.3,571.3 971.4,572.5 971.5,574.3 971.7,567.3 971.8,574.2 972.0,567.2 972.1,576.6 972.3,568.6 972.4,568.2 972.6,567.7 972.7,564.8 972.9,572.8 973.0,564.5 973.2,570.0 973.3,566.1 973.5,574.9 973.6,566.6 973.8,561.0 973.9,564.1 974.0,569.1 974.2,564.7 974.3,564.9 974.5,564.3 974.6,562.6 974.8,567.6 974.9,564.5 975.1,568.8 975.2,564.9 975.4,564.6 975.5,561.2 975.7,558.7 975.8,559.5 976.0,560.7 976.1,559.5 976.3,563.2 976.4,562.5 976.5,561.3 976.7,559.5 976.8,556.2 977.0,561.7 977.1,563.2 977.3,561.6 977.4,560.6 977.6,560.5 977.7,553.4 977.9,549.8 978.0,565.3 978.2,559.0 978.3,555.5 978.5,558.9 978.6,555.1 978.8,556.6 978.9,560.3 979.0,555.9 979.2,555.8 979.3,555.7 979.5,554.5 979.6,554.3 979.8,554.1 979.9,556.3 980.1,549.8 980.2,554.0 980.4,556.6 980.5,553.1 980.7,553.6 980.8,550.1 981.0,552.0 981.1,548.9 981.3,548.7 981.4,549.8 981.5,544.9 981.7,548.9 981.8,547.4 982.0,545.1 982.1,548.8 982.3,541.7 982.4,550.4 982.6,543.0 982.7,543.9 982.9,545.8 983.0,542.8 983.2,546.5 983.3,544.2 983.5,545.8 983.6,537.9 983.7,538.7 983.9,539.8 984.0,543.8 984.2,544.1 984.3,547.0 984.5,546.4 984.6,539.6 984.8,537.4 984.9,545.1 985.1,535.1 985.2,538.5 985.4,540.1 985.5,536.1 985.7,538.3 985.8,535.4 986.0,541.4 986.1,536.6 986.2,534.9 986.4,533.3 986.5,534.9 986.7,535.0 986.8,533.0 987.0,534.5 987.1,537.5 987.3,540.8 987.4,535.3 987.6,536.4 987.7,531.4 987.9,530.1 988.0,526.4 988.2,526.8 988.3,532.3 988.5,529.3 988.6,529.2 988.7,526.2 988.9,527.6 989.0,525.0 989.2,525.8 989.3,527.2 989.5,523.2 989.6,530.5 989.8,521.5 989.9,528.1 990.1,522.5 990.2,522.2 990.4,521.7 990.5,523.3 990.7,522.6 990.8,524.1 991.0,527.1 991.1,518.5 991.2,514.9 991.4,523.1 991.5,516.8 991.7,517.0 991.8,519.1 992.0,513.4 992.1,516.3 992.3,513.2 992.4,514.1 992.6,514.5 992.7,515.3 992.9,510.1 993.0,514.1 993.2,512.4 993.3,513.1 993.5,508.6 993.6,514.3 993.7,514.5 993.9,516.5 994.0,509.8 994.2,508.4 994.3,511.7 994.5,506.6 994.6,511.4 994.8,508.6 994.9,511.2 995.1,509.1 995.2,496.7 995.4,504.7 995.5,494.3 995.7,504.7 995.8,506.7 996.0,498.8 996.1,503.0 996.2,507.0 996.4,501.4 996.5,501.0 996.7,501.7 996.8,494.0 997.0,493.8 997.1,498.2 997.3,494.2 997.4,493.9 997.6,497.3 997.7,498.0 997.9,495.9 998.0,487.3 998.2,491.4 998.3,492.4 998.4,492.2 998.6,493.6 998.7,488.3 998.9,495.0 999.0,483.8 999.2,488.2 999.3,489.4 999.5,495.3 999.6,487.5 999.8,481.5 999.9,491.0 1000.1,493.2 1000.2,483.0 1000.4,485.9 1000.5,485.0 1000.7,479.7 1000.8,480.3 1000.9,490.1 1001.1,482.8 1001.2,486.8 1001.4,479.2 1001.5,482.1 1001.7,480.2 1001.8,478.5 1002.0,483.9 1002.1,477.6 1002.3,479.1 1002.4,475.4 1002.6,476.3 1002.7,475.0 1002.9,480.8 1003.0,479.9 1003.2,479.8 1003.3,470.8 1003.4,474.7 1003.6,473.7 1003.7,476.0 1003.9,474.5 1004.0,475.5 1004.2,470.7 1004.3,484.6 1004.5,475.1 1004.6,467.4 1004.8,471.9 1004.9,475.5 1005.1,474.7 1005.2,474.5 1005.4,464.0 1005.5,473.3 1005.7,470.9 1005.8,474.3 1005.9,465.2 1006.1,467.4 1006.2,470.2 1006.4,464.3 1006.5,460.8 1006.7,463.3 1006.8,466.0 1007.0,469.5 1007.1,467.5 1007.3,462.4 1007.4,469.2 1007.6,468.5 1007.7,470.5 1007.9,467.6 1008.0,468.1 1008.2,471.0 1008.3,470.0 1008.4,471.4 1008.6,471.7 1008.7,473.9 1008.9,470.3 1009.0,473.9 1009.2,472.1 1009.3,464.7 1009.5,465.8 1009.6,469.3 1009.8,473.7 1009.9,474.6 1010.1,470.1 1010.2,469.9 1010.4,475.6 1010.5,475.2 1010.7,479.1 1010.8,478.5 1010.9,467.0 1011.1,473.1 1011.2,473.5 1011.4,471.4 1011.5,475.5 1011.7,476.8 1011.8,472.3 1012.0,474.3 1012.1,473.9 1012.3,473.8 1012.4,471.1 1012.6,467.0 1012.7,482.0 1012.9,478.2 1013.0,477.0 1013.1,481.7 1013.3,478.7 1013.4,475.5 1013.6,476.9 1013.7,484.6 1013.9,479.1 1014.0,484.2 1014.2,483.0 1014.3,479.7 1014.5,482.8 1014.6,489.5 1014.8,481.5 1014.9,481.9 1015.1,487.9 1015.2,487.8 1015.4,487.1 1015.5,485.8 1015.6,489.0 1015.8,487.1 1015.9,489.6 1016.1,490.1 1016.2,489.9 1016.4,496.7 1016.5,495.0 1016.7,487.7 1016.8,492.2 1017.0,491.8 1017.1,487.5 1017.3,497.9 1017.4,493.6 1017.6,498.6 1017.7,501.3 1017.9,494.2 1018.0,493.3 1018.1,492.7 1018.3,499.7 1018.4,502.0 1018.6,499.1 1018.7,497.1 1018.9,499.5 1019.0,498.7 1019.2,503.9 1019.3,493.6 1019.5,500.7 1019.6,510.5 1019.8,505.6 1019.9,507.5 1020.1,506.7 1020.2,510.5 1020.4,512.8 1020.5,504.6 1020.6,511.0 1020.8,513.3 1020.9,509.8 1021.1,509.4 1021.2,509.8 1021.4,511.5 1021.5,510.6 1021.7,511.6 1021.8,512.4 1022.0,518.6 1022.1,514.9 1022.3,515.7 1022.4,517.3 1022.6,514.8 1022.7,513.9 1022.9,516.2 1023.0,518.4 1023.1,523.6 1023.3,523.3 1023.4,522.8 1023.6,524.4 1023.7,515.8 1023.9,523.6 1024.0,528.9 1024.2,528.3 1024.3,526.8 1024.5,528.3 1024.6,531.0 1024.8,526.0 1024.9,526.2 1025.1,527.2 1025.2,531.0 1025.4,529.0 1025.5,531.4 1025.6,531.9 1025.8,529.0 1025.9,530.0 1026.1,529.9 1026.2,540.4 1026.4,537.9 1026.5,535.7 1026.7,535.0 1026.8,530.2 1027.0,541.7 1027.1,540.5 1027.3,536.6 1027.4,537.6 1027.6,537.5 1027.7,542.0 1027.8,538.4 1028.0,536.0 1028.1,541.3 1028.3,541.9 1028.4,544.0 1028.6,540.3 1028.7,544.1 1028.9,537.7 1029.0,545.9 1029.2,540.5 1029.3,545.4 1029.5,550.6 1029.6,547.4 1029.8,545.0 1029.9,549.1 1030.1,555.8 1030.2,554.7 1030.3,548.5 1030.5,553.4 1030.6,549.6 1030.8,552.5 1030.9,554.4 1031.1,551.3 1031.2,552.4 1031.4,551.7 1031.5,553.4 1031.7,562.3 1031.8,548.8 1032.0,557.0 1032.1,560.9 1032.3,559.2 1032.4,560.2 1032.6,556.9 1032.7,561.0 1032.8,561.4 1033.0,559.6 1033.1,559.9 1033.3,560.3 1033.4,560.3 1033.6,564.5 1033.7,567.4 1033.9,563.0 1034.0,564.2 1034.2,557.0 1034.3,561.2 1034.5,565.0 1034.6,560.8 1034.8,567.3 1034.9,564.7 1035.1,565.3 1035.2,563.7 1035.3,575.0 1035.5,571.9 1035.6,570.0 1035.8,567.3 1035.9,574.1 1036.1,573.2 1036.2,568.0 1036.4,565.0 1036.5,567.8 1036.7,569.8 1036.8,567.6 1037.0,564.5 1037.1,570.9 1037.3,574.6 1037.4,577.7 1037.6,575.6 1037.7,572.4 1037.8,568.3 1038.0,575.3 1038.1,572.2 1038.3,569.0 1038.4,573.9 1038.6,572.6 1038.7,569.4 1038.9,571.0 1039.0,580.6 1039.2,580.3 1039.3,581.5 1039.5,576.5 1039.6,571.8 1039.8,581.8 1039.9,575.5 1040.1,579.6 1040.2,572.7 1040.3,576.7 1040.5,582.5 1040.6,579.4 1040.8,574.4 1040.9,580.7 1041.1,577.9 1041.2,580.3 1041.4,582.8 1041.5,582.8 1041.7,586.0 1041.8,580.8 1042.0,580.7 1042.1,577.1 1042.3,583.0 1042.4,580.7 1042.5,582.9 1042.7,581.9 1042.8,586.8 1043.0,582.6 1043.1,580.6 1043.3,579.5 1043.4,578.1 1043.6,585.2 1043.7,584.6 1043.9,588.3 1044.0,589.9 1044.2,582.8 1044.3,590.9 1044.5,585.7 1044.6,589.4 1044.8,583.5 1044.9,585.3 1045.0,587.1 1045.2,586.1 1045.3,583.5 1045.5,587.4 1045.6,591.4 1045.8,589.0 1045.9,595.8 1046.1,590.2 1046.2,590.5 1046.4,591.9 1046.5,585.4 1046.7,587.9 1046.8,589.1 1047.0,590.9 1047.1,587.9 1047.3,597.1 1047.4,588.6 1047.5,587.7 1047.7,592.1 1047.8,592.3 1048.0,596.8 1048.1,590.2 1048.3,591.3 1048.4,589.4 1048.6,595.7 1048.7,592.8 1048.9,594.6 1049.0,597.5 1049.2,599.6 1049.3,594.9 1049.5,589.4 1049.6,589.4 1049.8,593.7 1049.9,604.0 1050.0,593.6 1050.2,603.8 1050.3,592.4 1050.5,599.7 1050.6,598.7 1050.8,601.0 1050.9,597.1 1051.1,602.6 1051.2,598.4 1051.4,597.3 1051.5,594.4 1051.7,595.7 1051.8,600.2 1052.0,590.5 1052.1,601.9 1052.3,600.8 1052.4,597.1 1052.5,601.0 1052.7,596.1 1052.8,595.9 1053.0,594.2 1053.1,599.5 1053.3,595.7 1053.4,594.2 1053.6,603.0 1053.7,600.1 1053.9,606.2 1054.0,599.0 1054.2,597.7 1054.3,601.2 1054.5,595.9 1054.6,596.8 1054.8,599.7 1054.9,601.8 1055.0,595.9 1055.2,599.1 1055.3,598.4 1055.5,598.1 1055.6,613.5 1055.8,605.3 1055.9,596.5 1056.1,602.3 1056.2,604.0 1056.4,599.4 1056.5,608.3 1056.7,602.8 1056.8,605.9 1057.0,603.5 1057.1,604.5 1057.2,613.5 1057.4,605.3 1057.5,605.3 1057.7,601.5 1057.8,600.6 1058.0,606.2 1058.1,602.5 1058.3,598.2 1058.4,601.4 1058.6,602.1 1058.7,605.7 1058.9,603.9 1059.0,600.0 1059.2,604.4 1059.3,607.2 1059.5,605.2 1059.6,612.3 1059.7,612.0 1059.9,602.2 1060.0,605.1 1060.2,605.3 1060.3,605.4 1060.5,607.1 1060.6,613.6 1060.8,608.8 1060.9,610.7 1061.1,611.5 1061.2,607.6 1061.4,607.2 1061.5,606.1 1061.7,609.3 1061.8,602.0 1062.0,606.8 1062.1,607.8 1062.2,608.9 1062.4,608.8 1062.5,608.8 1062.7,608.6 1062.8,608.9 1063.0,604.0 1063.1,612.7 1063.3,607.0 1063.4,612.1 1063.6,611.9 1063.7,611.3 1063.9,610.4 1064.0,608.7 1064.2,612.1 1064.3,616.4 1064.5,613.5 1064.6,611.6 1064.7,613.4 1064.9,603.9 1065.0,607.8 1065.2,610.2 1065.3,612.3 1065.5,619.1 1065.6,614.6 1065.8,613.4 1065.9,618.1 1066.1,609.4 1066.2,610.9 1066.4,607.8 1066.5,609.3 1066.7,615.1 1066.8,613.1 1067.0,612.8 1067.1,616.5 1067.2,615.4 1067.4,610.2 1067.5,612.2 1067.7,611.5 1067.8,606.8 1068.0,603.3 1068.1,618.0 1068.3,604.2 1068.4,613.7 1068.6,617.8 1068.7,616.4 1068.9,615.3 1069.0,614.7 1069.2,605.8 1069.3,616.1 1069.4,624.4 1069.6,611.9 1069.7,615.1 1069.9,614.6 1070.0,615.7 1070.2,616.0 1070.3,611.1 1070.5,614.9 1070.6,614.8 1070.8,618.7 1070.9,612.4 1071.1,613.0 1071.2,614.1 1071.4,617.1 1071.5,622.2 1071.7,618.0 1071.8,620.6 1071.9,618.2 1072.1,611.3 1072.2,611.2 1072.4,614.8 1072.5,622.9 1072.7,613.6 1072.8,619.8 1073.0,621.1 1073.1,619.5 1073.3,615.5 1073.4,615.2 1073.6,614.4 1073.7,618.2 1073.9,621.3 1074.0,620.4 1074.2,618.1 1074.3,617.2 1074.4,617.2 1074.6,619.5 1074.7,617.6 1074.9,617.3 1075.0,617.3 1075.2,620.1 1075.3,620.7 1075.5,619.0 1075.6,617.8 1075.8,617.9 1075.9,620.0 1076.1,621.2 1076.2,617.1 1076.4,623.1 1076.5,610.1 1076.7,621.6 1076.8,619.2 1076.9,619.0 1077.1,617.0 1077.2,619.4 1077.4,619.6 1077.5,616.1 1077.7,625.2 1077.8,617.8 1078.0,618.3 1078.1,623.1 1078.3,621.5 1078.4,626.6 1078.6,620.6 1078.7,616.8 1078.9,620.9 1079.0,620.1 1079.2,619.1 1079.3,617.0 1079.4,620.2 1079.6,622.8 1079.7,615.4 1079.9,615.3 1080.0,621.4 1080.2,629.2 1080.3,616.0 1080.5,619.7 1080.6,625.8 1080.8,630.3 1080.9,620.8 1081.1,626.0 1081.2,623.6 1081.4,625.0 1081.5,620.6 1081.7,619.3 1081.8,624.0 1081.9,618.3 1082.1,628.6 1082.2,626.4 1082.4,624.8 1082.5,624.8 1082.7,625.3 1082.8,627.8 1083.0,627.4 1083.1,619.2 1083.3,617.0 1083.4,626.8 1083.6,625.3 1083.7,622.7 1083.9,631.4 1084.0,626.8 1084.1,625.4 1084.3,620.3 1084.4,619.0 1084.6,633.2 1084.7,628.5 1084.9,621.6 1085.0,629.5 1085.2,628.9 1085.3,624.1 1085.5,619.8 1085.6,631.1 1085.8,624.6 1085.9,625.1 1086.1,627.0 1086.2,622.3 1086.4,628.1 1086.5,629.9 1086.6,631.8 1086.8,627.3 1086.9,624.9 1087.1,630.6 1087.2,621.9 1087.4,626.5 1087.5,632.7 1087.7,625.0 1087.8,620.9 1088.0,625.0 1088.1,631.4 1088.3,628.2 1088.4,629.4 1088.6,628.1 1088.7,630.6 1088.9,624.6 1089.0,636.0 1089.1,630.3 1089.3,635.4 1089.4,627.5 1089.6,633.0 1089.7,630.1 1089.9,634.6 1090.0,630.4 1090.2,632.4 1090.3,628.4 1090.5,634.5 1090.6,628.2 1090.8,626.5 1090.9,625.6 1091.1,626.3 1091.2,627.0 1091.4,628.7 1091.5,628.5 1091.6,635.9 1091.8,634.3 1091.9,631.6 1092.1,626.4 1092.2,632.1 1092.4,633.6 1092.5,634.8 1092.7,629.0 1092.8,640.7 1093.0,633.0 1093.1,631.7 1093.3,640.2 1093.4,628.7 1093.6,627.3 1093.7,635.6 1093.9,631.7 1094.0,634.5 1094.1,634.6 1094.3,635.4 1094.4,635.5 1094.6,634.1 1094.7,634.0 1094.9,637.3 1095.0,636.2 1095.2,636.4 1095.3,635.9 1095.5,640.5 1095.6,636.9 1095.8,635.3 1095.9,635.7 1096.1,633.5 1096.2,637.6 1096.4,637.1 1096.5,634.3 1096.6,637.2 1096.8,640.0 1096.9,640.1 1097.1,634.6 1097.2,637.0 1097.4,633.0 1097.5,640.2 1097.7,634.5 1097.8,637.5 1098.0,639.2 1098.1,638.3 1098.3,641.3 1098.4,644.0 1098.6,644.5 1098.7,628.1 1098.8,641.4 1099.0,639.2 1099.1,633.8 1099.3,634.7 1099.4,634.7 1099.6,640.2 1099.7,638.0 1099.9,638.1 1100.0,638.4 1100.2,633.6 1100.3,634.1 1100.5,641.4 1100.6,637.3 1100.8,636.7 1100.9,639.0 1101.1,640.7 1101.2,635.6 1101.3,640.7 1101.5,642.5 1101.6,637.7 1101.8,639.5 1101.9,643.6 1102.1,646.9 1102.2,645.0 1102.4,639.8 1102.5,643.6 1102.7,635.5 1102.8,639.3 1103.0,643.4 1103.1,643.3 1103.3,641.6 1103.4,638.8 1103.6,643.4 1103.7,631.8 1103.8,639.7 1104.0,644.8 1104.1,643.3 1104.3,641.9 1104.4,647.5 1104.6,645.7 1104.7,640.3 1104.9,640.2 1105.0,643.3 1105.2,641.4 1105.3,648.7 1105.5,639.1 1105.6,642.5 1105.8,638.3 1105.9,645.9 1106.1,639.2 1106.2,638.2 1106.3,644.5 1106.5,645.5 1106.6,644.9 1106.8,648.2 1106.9,646.0 1107.1,648.6 1107.2,640.5 1107.4,643.4 1107.5,647.3 1107.7,646.2 1107.8,644.0 1108.0,642.5 1108.1,643.8 1108.3,644.0 1108.4,648.4 1108.6,648.5 1108.7,646.5 1108.8,644.1 1109.0,645.9 1109.1,644.8 1109.3,647.9 1109.4,645.7 1109.6,645.6 1109.7,645.9 1109.9,650.5 1110.0,649.4 1110.2,649.2 1110.3,649.1 1110.5,649.2 1110.6,651.0 1110.8,649.2 1110.9,647.2 1111.1,651.4 1111.2,647.0 1111.3,650.3 1111.5,647.5 1111.6,653.8 1111.8,653.3 1111.9,651.4 1112.1,653.7 1112.2,644.8 1112.4,648.0 1112.5,646.0 1112.7,643.8 1112.8,644.0 1113.0,645.4 1113.1,652.9 1113.3,654.3 1113.4,653.6 1113.5,647.2 1113.7,652.1 1113.8,647.8 1114.0,649.2 1114.1,653.7 1114.3,649.8 1114.4,645.3 1114.6,654.0 1114.7,652.4 1114.9,656.7 1115.0,653.0 1115.2,649.4 1115.3,650.3 1115.5,654.1 1115.6,648.5 1115.8,648.4 1115.9,658.0 1116.0,649.7 1116.2,651.7 1116.3,655.3 1116.5,649.1 1116.6,653.9 1116.8,648.1 1116.9,648.9 1117.1,653.7 1117.2,652.2 1117.4,652.4 1117.5,650.8 1117.7,650.8 1117.8,647.9 1118.0,651.4 1118.1,648.8 1118.3,658.6 1118.4,655.8 1118.5,651.7 1118.7,658.6 1118.8,655.2 1119.0,659.8 1119.1,648.8 1119.3,649.0 1119.4,654.3 1119.6,648.8 1119.7,653.9 1119.9,653.1 1120.0,654.7 1120.2,660.5 1120.3,653.2 1120.5,653.2 1120.6,651.3 1120.8,656.5 1120.9,653.5 1121.0,653.9 1121.2,657.5 1121.3,658.6 1121.5,656.5 1121.6,656.2 1121.8,657.4 1121.9,652.4 1122.1,651.7 1122.2,655.4 1122.4,660.0 1122.5,653.0 1122.7,654.4 1122.8,652.2 1123.0,654.3 1123.1,653.7 1123.3,655.8 1123.4,660.7 1123.5,657.3 1123.7,651.1 1123.8,658.7 1124.0,652.2 1124.1,660.1 1124.3,653.9 1124.4,656.1 1124.6,651.5 1124.7,658.2 1124.9,654.4 1125.0,656.0 1125.2,656.2 1125.3,656.1 1125.5,656.7 1125.6,657.0 1125.8,664.4 1125.9,656.5 1126.0,664.8 1126.2,658.2 1126.3,657.2 1126.5,658.0 1126.6,670.0 1126.8,658.9 1126.9,663.8 1127.1,657.6 1127.2,662.2 1127.4,655.5 1127.5,657.9 1127.7,656.7 1127.8,659.8 1128.0,664.1 1128.1,661.9 1128.2,659.8 1128.4,656.8 1128.5,661.9 1128.7,660.8 1128.8,661.3 1129.0,657.0 1129.1,661.6 1129.3,662.1 1129.4,658.5 1129.6,665.5 1129.7,657.2 1129.9,663.0 1130.0,662.3 1130.2,659.4 1130.3,657.4 1130.5,659.8 1130.6,661.4 1130.7,661.0 1130.9,658.9 1131.0,655.0 1131.2,657.4 1131.3,657.3 1131.5,663.5 1131.6,661.0 1131.8,663.6 1131.9,670.5 1132.1,666.0 1132.2,662.5 1132.4,658.7 1132.5,660.2 1132.7,664.0 1132.8,662.4 1133.0,665.9 1133.1,662.4 1133.2,666.4 1133.4,660.5 1133.5,664.0 1133.7,659.1 1133.8,665.4 1134.0,659.8 1134.1,659.0 1134.3,659.0 1134.4,666.6 1134.6,666.2 1134.7,665.0 1134.9,661.1 1135.0,660.1 1135.2,664.7 1135.3,659.0 1135.5,672.5 1135.6,665.2 1135.7,661.2 1135.9,669.5 1136.0,656.1 1136.2,664.5 1136.3,672.1 1136.5,668.1 1136.6,668.8 1136.8,662.1 1136.9,673.6 1137.1,667.0 1137.2,664.7 1137.4,670.2 1137.5,667.0 1137.7,663.9 1137.8,667.6 1138.0,667.9 1138.1,665.7 1138.2,667.5 1138.4,669.0 1138.5,668.0 1138.7,667.3 1138.8,661.9 1139.0,665.0 1139.1,666.1 1139.3,664.4 1139.4,665.7 1139.6,671.2 1139.7,665.0 1139.9,673.2 1140.0,670.2 1140.2,668.7 1140.3,669.7 1140.5,667.2 1140.6,668.4 1140.7,668.9 1140.9,661.1 1141.0,672.2 1141.2,670.4 1141.3,666.3 1141.5,669.4 1141.6,663.5 1141.8,676.2 1141.9,662.8 1142.1,668.0 1142.2,665.9 1142.4,673.1 1142.5,666.2 1142.7,666.3 1142.8,671.2 1142.9,669.0 1143.1,662.4 1143.2,664.0 1143.4,664.0 1143.5,667.6 1143.7,663.9 1143.8,665.5 1144.0,666.1 1144.1,673.8 1144.3,671.0 1144.4,671.6 1144.6,669.1 1144.7,669.1 1144.9,663.9 1145.0,670.0 1145.2,666.1 1145.3,668.6 1145.4,666.0 1145.6,666.9 1145.7,667.7 1145.9,663.1 1146.0,666.8 1146.2,663.2 1146.3,671.1 1146.5,668.7 1146.6,670.8 1146.8,671.4 1146.9,667.2 1147.1,674.7 1147.2,667.4 1147.4,670.3 1147.5,664.0 1147.7,664.6 1147.8,670.6 1147.9,667.5 1148.1,669.1 1148.2,672.7 1148.4,667.4 1148.5,672.2 1148.7,677.0 1148.8,669.2 1149.0,673.2 1149.1,669.0 1149.3,676.3 1149.4,677.0 1149.6,670.5 1149.7,671.3 1149.9,672.2 1150.0,669.7 1150.2,675.1 1150.3,674.0 1150.4,666.0 1150.6,662.5 1150.7,668.0 1150.9,673.7 1151.0,669.2 1151.2,673.0 1151.3,670.6 1151.5,667.7 1151.6,672.4 1151.8,671.9 1151.9,669.9 1152.1,671.1 1152.2,666.9 1152.4,670.2 1152.5,669.5 1152.7,674.5 1152.8,665.6 1152.9,670.8 1153.1,672.7 1153.2,666.6 1153.4,673.2 1153.5,666.4 1153.7,667.7 1153.8,670.9 1154.0,676.5 1154.1,668.2 1154.3,676.2 1154.4,676.7 1154.6,672.1 1154.7,671.0 1154.9,667.7 1155.0,673.2 1155.2,665.7 1155.3,668.4 1155.4,667.1 1155.6,673.7 1155.7,675.2 1155.9,668.5 1156.0,673.3 1156.2,672.6 1156.3,669.7 1156.5,672.5 1156.6,668.1 1156.8,674.0 1156.9,672.4 1157.1,674.8 1157.2,673.6 1157.4,675.0 1157.5,676.7 1157.6,672.2 1157.8,674.4 1157.9,676.4 1158.1,670.1 1158.2,680.6 1158.4,666.1 1158.5,669.9 1158.7,670.6 1158.8,674.6 1159.0,673.8 1159.1,667.7 1159.3,677.8 1159.4,673.7 1159.6,674.9 1159.7,673.6 1159.9,674.9 1160.0,675.5 1160.1,672.3 1160.3,665.0 1160.4,676.1 1160.6,669.2 1160.7,675.6 1160.9,679.7 1161.0,669.4 1161.2,669.1 1161.3,682.6 1161.5,672.7 1161.6,675.9 1161.8,670.6 1161.9,674.4 1162.1,676.5 1162.2,675.5 1162.4,678.5 1162.5,670.9 1162.6,673.1 1162.8,672.1 1162.9,669.9 1163.1,675.8 1163.2,671.2 1163.4,676.5 1163.5,666.7 1163.7,671.8 1163.8,671.1 1164.0,674.8 1164.1,683.5 1164.3,677.0 1164.4,673.8 1164.6,676.0 1164.7,675.2 1164.9,679.3 1165.0,672.5 1165.1,671.6 1165.3,671.1 1165.4,672.5 1165.6,677.7 1165.7,677.4 1165.9,678.1 1166.0,674.7 1166.2,673.9 1166.3,675.4 1166.5,676.0 1166.6,676.7 1166.8,670.5 1166.9,676.1 1167.1,673.4 1167.2,676.8 1167.4,672.9 1167.5,673.9 1167.6,676.0 1167.8,668.8 1167.9,675.3 1168.1,671.5 1168.2,675.8 1168.4,676.4 1168.5,675.9 1168.7,668.4 1168.8,682.7 1169.0,675.2 1169.1,676.8 1169.3,679.1 1169.4,673.1 1169.6,674.0 1169.7,673.8 1169.9,669.3 1170.0,673.8 1170.1,679.1 1170.3,676.9 1170.4,676.2 1170.6,667.0 1170.7,679.7 1170.9,681.6 1171.0,676.7 1171.2,678.1 1171.3,674.5 1171.5,675.8 1171.6,682.1 1171.8,678.6 1171.9,676.4 1172.1,677.5 1172.2,674.7 1172.3,677.6 1172.5,674.6 1172.6,677.3 1172.8,682.6 1172.9,672.4 1173.1,684.0 1173.2,677.6 1173.4,675.5 1173.5,674.7 1173.7,671.7 1173.8,680.8 1174.0,678.3 1174.1,681.1 1174.3,676.0 1174.4,676.8 1174.6,679.5 1174.7,676.1 1174.8,675.0 1175.0,674.4 1175.1,681.3 1175.3,680.7 1175.4,682.0 1175.6,678.3 1175.7,670.9 1175.9,673.7 1176.0,677.8 1176.2,673.6 1176.3,681.4 1176.5,680.1 1176.6,670.5 1176.8,675.6 1176.9,675.2 1177.1,674.9 1177.2,672.2 1177.3,674.4 1177.5,676.0 1177.6,682.6 1177.8,675.8 1177.9,680.9 1178.1,677.0 1178.2,675.8 1178.4,675.5 1178.5,684.6 1178.7,675.8 1178.8,674.2 1179.0,669.3 1179.1,680.2 1179.3,682.8 1179.4,677.3 1179.6,673.6 1179.7,674.7 1179.8,676.3 1180.0,674.8 1180.1,675.8 1180.3,677.7 1180.4,678.3 1180.6,680.6 1180.7,675.4 1180.9,678.1 1181.0,677.0 1181.2,675.2 1181.3,676.4 1181.5,676.5 1181.6,678.9 1181.8,681.9 1181.9,675.6 1182.1,675.9 1182.2,674.1 1182.3,678.3 1182.5,676.4 1182.6,679.6 1182.8,683.0 1182.9,677.1 1183.1,679.5 1183.2,677.8 1183.4,676.3 1183.5,677.0 1183.7,671.7 1183.8,673.3 1184.0,674.9 1184.1,678.5 1184.3,673.4 1184.4,673.5 1184.6,679.1 1184.7,682.5 1184.8,680.3 1185.0,680.9 1185.1,681.5 1185.3,676.0 1185.4,676.2 1185.6,676.6 1185.7,677.2 1185.9,677.1 1186.0,682.3 1186.2,686.6 1186.3,675.6 1186.5,674.5 1186.6,678.4 1186.8,684.3 1186.9,680.6 1187.0,681.9 1187.2,675.8 1187.3,681.9 1187.5,685.5 1187.6,675.3 1187.8,681.3 1187.9,675.9 1188.1,676.8 1188.2,680.9 1188.4,675.1 1188.5,674.6 1188.7,681.0 1188.8,683.2 1189.0,685.4 1189.1,677.8 1189.3,687.9 1189.4,678.5 1189.5,675.9 1189.7,679.3 1189.8,677.3 1190.0,681.6 1190.1,676.5 1190.3,681.0 1190.4,681.0 1190.6,676.5 1190.7,681.8 1190.9,682.7 1191.0,680.1 1191.2,676.2 1191.3,685.8 1191.5,677.5 1191.6,679.7 1191.8,673.9 1191.9,681.7 1192.0,676.9 1192.2,675.1 1192.3,676.3 1192.5,679.0 1192.6,682.4 1192.8,683.1 1192.9,677.8 1193.1,677.1 1193.2,683.0 1193.4,676.0 1193.5,679.5 1193.7,673.9 1193.8,675.9 1194.0,673.9 1194.1,677.0 1194.3,678.2 1194.4,684.4 1194.5,683.5 1194.7,677.9 1194.8,682.3 1195.0,682.3 1195.1,674.4 1195.3,679.1 1195.4,677.7 1195.6,671.2 1195.7,675.9 1195.9,681.4 1196.0,683.9 1196.2,678.0 1196.3,681.1 1196.5,678.4 1196.6,681.0 1196.8,676.4 1196.9,677.8 1197.0,679.0 1197.2,681.6 1197.3,682.1 1197.5,678.3 1197.6,678.5 1197.8,684.3 1197.9,679.1 1198.1,678.1 1198.2,679.6 1198.4,678.5 1198.5,684.9 1198.7,676.3 1198.8,681.1 1199.0,676.2 1199.1,677.9 1199.3,683.0 1199.4,678.4 1199.5,675.1 1199.7,682.2 1199.8,681.1 1200.0,688.3 1200.1,672.8 1200.3,682.8 1200.4,680.3 1200.6,678.7 1200.7,683.4 1200.9,682.2 1201.0,682.2 1201.2,679.6 1201.3,682.9 1201.5,679.5 1201.6,686.4 1201.7,674.6 1201.9,684.2 1202.0,688.6 1202.2,684.2 1202.3,676.5 1202.5,676.1 1202.6,681.6 1202.8,675.8 1202.9,682.6 1203.1,683.5 1203.2,681.7 1203.4,680.1 1203.5,682.4 1203.7,686.6 1203.8,676.0 1204.0,680.9 1204.1,679.4 1204.2,679.1 1204.4,673.9 1204.5,676.7 1204.7,685.0 1204.8,676.7 1205.0,685.7 1205.1,686.6 1205.3,677.6 1205.4,678.3 1205.6,686.9 1205.7,683.9 1205.9,677.4 1206.0,681.9 1206.2,680.9 1206.3,685.3 1206.5,685.6 1206.6,683.3 1206.7,683.4 1206.9,690.3 1207.0,682.2 1207.2,678.3 1207.3,685.6 1207.5,686.8 1207.6,680.6 1207.8,678.5 1207.9,686.8 1208.1,678.5 1208.2,675.0 1208.4,680.1 1208.5,673.2 1208.7,686.7 1208.8,686.8 1209.0,682.1 1209.1,683.5 1209.2,681.6 1209.4,680.0 1209.5,677.5 1209.7,677.9 1209.8,686.5 1210.0,680.1 1210.1,679.1 1210.3,675.3 1210.4,683.4 1210.6,681.6 1210.7,678.9 1210.9,681.8 1211.0,683.3 1211.2,680.7 1211.3,687.3 1211.5,686.8 1211.6,682.2 1211.7,681.7 1211.9,683.6 1212.0,686.7 1212.2,682.1 1212.3,684.5 1212.5,683.1 1212.6,679.7 1212.8,673.6 1212.9,685.3 1213.1,679.4 1213.2,681.2 1213.4,684.6 1213.5,680.0 1213.7,684.3 1213.8,683.3 1214.0,680.7 1214.1,683.3 1214.2,681.0 1214.4,680.8 1214.5,677.6 1214.7,686.8 1214.8,683.6 1215.0,675.3 1215.1,682.4 1215.3,679.2 1215.4,676.4 1215.6,682.4 1215.7,685.6 1215.9,687.4 1216.0,682.1 1216.2,681.4 1216.3,692.6 1216.4,678.0 1216.6,685.7 1216.7,678.1 1216.9,678.5 1217.0,688.1 1217.2,680.9 1217.3,684.0 1217.5,683.5 1217.6,675.3 1217.8,678.3 1217.9,683.2 1218.1,677.3 1218.2,679.8 1218.4,677.4 1218.5,681.7 1218.7,689.7 1218.8,687.1 1218.9,676.9 1219.1,679.5 1219.2,678.2 1219.4,683.9 1219.5,687.3 1219.7,689.7 1219.8,683.5 1220.0,691.3 1220.1,678.0 1220.3,681.2 1220.4,675.1 1220.6,679.1 1220.7,678.9 1220.9,674.8 1221.0,681.6 1221.2,684.5 1221.3,682.7 1221.4,687.8 1221.6,688.5 1221.7,680.3 1221.9,679.4 1222.0,679.2 1222.2,690.0 1222.3,682.5 1222.5,688.0 1222.6,680.3 1222.8,686.3 1222.9,681.5 1223.1,685.4 1223.2,682.5 1223.4,687.9 1223.5,682.9 1223.7,690.0 1223.8,680.2 1223.9,677.9 1224.1,677.8 1224.2,683.4 1224.4,682.1 1224.5,680.3 1224.7,680.9 1224.8,685.5 1225.0,684.3 1225.1,684.9 1225.3,683.2 1225.4,681.8 1225.6,680.1 1225.7,684.6 1225.9,678.9 1226.0,685.2 1226.2,685.2 1226.3,682.5 1226.4,681.3 1226.6,682.2 1226.7,684.5 1226.9,681.8 1227.0,682.0 1227.2,677.3 1227.3,689.9 1227.5,690.2 1227.6,689.7 1227.8,684.7 1227.9,686.7 1228.1,681.8 1228.2,683.3 1228.4,682.0 1228.5,685.3 1228.7,687.9 1228.8,681.6 1228.9,684.8 1229.1,679.9 1229.2,682.6 1229.4,681.9 1229.5,690.3 1229.7,682.4 1229.8,689.5 1230.0,686.4 1230.1,687.4 1230.3,687.6 1230.4,684.1 1230.6,688.3 1230.7,687.7 1230.9,683.4 1231.0,686.5 1231.1,689.5 1231.3,687.3 1231.4,684.4 1231.6,681.0 1231.7,686.0 1231.9,680.9 1232.0,685.0 1232.2,684.4 1232.3,681.7 1232.5,682.5 1232.6,676.5 1232.8,681.1 1232.9,688.1 1233.1,686.0 1233.2,692.4 1233.4,684.5 1233.5,690.1 1233.6,686.0 1233.8,685.9 1233.9,682.4 1234.1,682.4 1234.2,693.5 1234.4,678.5 1234.5,683.4 1234.7,683.9 1234.8,680.6 1235.0,678.7 1235.1,680.7 1235.3,682.7 1235.4,683.7 1235.6,681.5 1235.7,677.4 1235.9,682.1 1236.0,685.7 1236.1,688.0 1236.3,680.9 1236.4,685.9 1236.6,683.0 1236.7,683.2 1236.9,678.2 1237.0,686.3 1237.2,689.0 1237.3,689.3 1237.5,685.3 1237.6,680.7 1237.8,680.3 1237.9,681.4 1238.1,682.2 1238.2,687.4 1238.4,684.2 1238.5,678.1 1238.6,681.5 1238.8,682.7 1238.9,685.4 1239.1,686.1 1239.2,683.6 1239.4,678.3 1239.5,691.0 1239.7,682.8 1239.8,682.6 1240.0,684.2 1240.1,683.2 1240.3,685.0 1240.4,683.9 1240.6,683.5 1240.7,689.3 1240.9,690.4 1241.0,685.8 1241.1,689.6 1241.3,688.9 1241.4,681.7 1241.6,685.1 1241.7,692.3 1241.9,692.4 1242.0,686.2 1242.2,683.7 1242.3,680.8 1242.5,687.3 1242.6,691.8 1242.8,684.0 1242.9,682.3 1243.1,685.9 1243.2,690.6 1243.4,685.4 1243.5,683.7 1243.6,685.1 1243.8,687.2 1243.9,687.4 1244.1,686.7 1244.2,683.6 1244.4,685.4 1244.5,687.6 1244.7,687.7 1244.8,683.4 1245.0,683.4 1245.1,679.3 1245.3,686.1 1245.4,681.7 1245.6,688.5 1245.7,687.2 1245.8,683.3 1246.0,688.2 1246.1,690.5 1246.3,687.8 1246.4,681.7 1246.6,681.3 1246.7,682.6 1246.9,679.2 1247.0,683.1 1247.2,688.7 1247.3,682.8 1247.5,688.0 1247.6,684.3 1247.8,693.4 1247.9,683.1 1248.1,685.2 1248.2,687.8 1248.3,682.4 1248.5,682.2 1248.6,685.2 1248.8,682.4 1248.9,692.0 1249.1,680.1 1249.2,683.1 1249.4,683.3 1249.5,693.7 1249.7,678.8 1249.8,686.0 1250.0,688.4 1250.1,680.9 1250.3,691.1 1250.4,688.4 1250.6,686.6 1250.7,690.7 1250.8,684.6 1251.0,686.1 1251.1,690.8 1251.3,686.7 1251.4,691.1 1251.6,693.6 1251.7,685.0 1251.9,689.0 1252.0,690.3 1252.2,695.7 1252.3,689.5 1252.5,691.6 1252.6,692.9 1252.8,686.0 1252.9,692.7 1253.1,689.7 1253.2,688.5 1253.3,683.5 1253.5,686.3 1253.6,686.4 1253.8,688.9 1253.9,681.9 1254.1,687.2 1254.2,685.2 1254.4,690.5 1254.5,688.9 1254.7,687.5 1254.8,691.5 1255.0,686.9 1255.1,688.4 1255.3,686.6 1255.4,686.8 1255.6,686.4 1255.7,690.2 1255.8,687.4 1256.0,687.4 1256.1,688.4 1256.3,691.3 1256.4,687.2 1256.6,687.1 1256.7,687.2 1256.9,694.6 1257.0,688.7 1257.2,685.4 1257.3,687.6 1257.5,691.2 1257.6,687.8 1257.8,684.2 1257.9,690.4 1258.1,688.7 1258.2,692.3 1258.3,691.0 1258.5,691.3 1258.6,683.6 1258.8,690.2 1258.9,686.5 1259.1,691.8 1259.2,688.5 1259.4,692.4 1259.5,686.4 1259.7,691.6 1259.8,692.4 1260.0,688.0 1260.1,691.3 1260.3,690.3 1260.4,691.4 1260.5,687.1 1260.7,693.1 1260.8,691.5 1261.0,687.7 1261.1,691.4 1261.3,691.1 1261.4,685.0 1261.6,687.7 1261.7,691.2 1261.9,685.7 1262.0,690.5 1262.2,698.4 1262.3,690.1 1262.5,687.0 1262.6,694.5 1262.8,690.2 1262.9,696.2 1263.0,688.9 1263.2,696.0 1263.3,689.1 1263.5,697.6 1263.6,691.1 1263.8,697.0 1263.9,688.4 1264.1,693.3 1264.2,693.5 1264.4,684.4 1264.5,694.3 1264.7,694.0 1264.8,695.5 1265.0,692.1 1265.1,692.9 1265.3,694.6 1265.4,698.0 1265.5,688.3 1265.7,697.3 1265.8,694.2 1266.0,693.9 1266.1,693.3 1266.3,693.1 1266.4,688.4 1266.6,692.5 1266.7,695.2 1266.9,694.6 1267.0,697.1 1267.2,700.9 1267.3,690.9 1267.5,685.6 1267.6,690.8 1267.8,694.2 1267.9,688.4 1268.0,693.2 1268.2,700.7 1268.3,697.0 1268.5,691.9 1268.6,689.9 1268.8,691.7 1268.9,690.4 1269.1,694.5 1269.2,692.5 1269.4,691.6 1269.5,700.4 1269.7,693.5 1269.8,695.6 1270.0,692.1 1270.1,695.1 1270.3,693.5 1270.4,689.0 1270.5,696.7 1270.7,697.9 1270.8,697.9 1271.0,691.9 1271.1,694.2 1271.3,689.6 1271.4,689.5 1271.6,695.9 1271.7,696.0 1271.9,696.1 1272.0,692.0 1272.2,694.8 1272.3,690.7 1272.5,700.0 1272.6,691.4 1272.8,699.9 1272.9,688.8 1273.0,696.7 1273.2,693.8 1273.3,690.3 1273.5,693.4 1273.6,697.6 1273.8,698.0 1273.9,698.5 1274.1,695.2 1274.2,697.6 1274.4,692.8 1274.5,699.0 1274.7,689.7 1274.8,697.5 1275.0,693.5 1275.1,700.9 1275.2,699.2 1275.4,693.1 1275.5,702.5 1275.7,694.4 1275.8,689.6 1276.0,699.4 1276.1,701.5 1276.3,699.1 1276.4,693.0 1276.6,698.8 1276.7,696.1 1276.9,694.8 1277.0,696.6 1277.2,696.7 1277.3,692.5 1277.5,694.4 1277.6,698.3 1277.7,693.3 1277.9,688.0 1278.0,695.9 1278.2,697.3 1278.3,702.7 1278.5,700.7 1278.6,697.1 1278.8,695.8 1278.9,700.2 1279.1,694.3 1279.2,693.9 1279.4,704.4 1279.5,702.5 1279.7,694.0 1279.8,699.1 1280.0,695.9 1280.1,689.5 1280.2,701.8 1280.4,697.5 1280.5,699.4 1280.7,697.9 1280.8,700.8 1281.0,706.3 1281.1,704.2 1281.3,700.4 1281.4,700.3 1281.6,699.4 1281.7,697.9 1281.9,693.6 1282.0,706.3 1282.2,695.7 1282.3,697.2 1282.5,704.9 1282.6,699.6 1282.7,703.1 1282.9,699.3 1283.0,701.3 1283.2,704.6 1283.3,705.8 1283.5,695.1 1283.6,699.2 1283.8,697.4" fill="none" stroke="#111" stroke-width="0.85" stroke-linejoin="bevel"/>
<path d="M959.2,588.0C960.6,586.6 964.8,583.8 967.6,579.7C970.4,575.5 973.2,569.4 976.0,563.1C978.8,556.8 981.6,550.1 984.4,541.8C987.2,533.5 990.4,522.1 992.8,513.4C995.2,504.7 997.4,496.0 999.1,489.7C1000.9,483.4 1002.0,479.1 1003.3,475.5C1004.6,471.9 1005.6,468.9 1006.7,467.9C1007.7,467.0 1008.4,467.5 1009.6,469.6C1010.8,471.6 1012.4,475.7 1013.8,480.2C1015.2,484.8 1016.6,490.9 1018.0,496.8C1019.4,502.7 1020.8,509.4 1022.2,515.8C1023.6,522.1 1025.0,528.8 1026.4,534.7C1027.8,540.6 1029.2,546.1 1030.6,551.3C1032.0,556.4 1033.4,561.3 1034.8,565.5C1036.2,569.6 1037.6,573.0 1039.0,576.1C1040.4,579.3 1041.1,580.9 1043.2,584.4C1045.3,588.0 1048.8,593.7 1051.6,597.4C1054.4,601.2 1057.2,604.1 1060.0,606.9C1062.8,609.7 1065.6,611.8 1068.4,614.0C1071.2,616.2 1074.0,618.0 1076.8,619.9C1079.6,621.9 1082.4,623.7 1085.2,625.8C1088.0,628.0 1090.8,630.6 1093.6,633.0C1096.4,635.3 1099.2,637.7 1102.0,640.1C1104.8,642.4 1107.6,644.9 1110.4,647.2C1113.2,649.4 1116.0,651.7 1118.8,653.8C1121.6,655.8 1124.4,657.7 1127.2,659.5C1130.0,661.2 1132.8,663.0 1135.6,664.4C1138.4,665.9 1141.2,667.1 1144.0,668.2C1146.8,669.3 1149.6,670.2 1152.4,671.1C1155.2,671.9 1158.0,672.7 1160.8,673.4C1163.6,674.1 1165.7,674.6 1169.2,675.3C1172.7,676.0 1177.6,677.0 1181.8,677.7C1186.0,678.4 1190.2,679.0 1194.4,679.6C1198.6,680.2 1202.8,680.7 1207.0,681.2C1211.2,681.8 1215.4,682.2 1219.6,682.7C1223.8,683.1 1228.7,683.5 1232.2,683.9C1235.7,684.2 1237.8,684.2 1240.6,684.6C1243.4,685.0 1246.2,685.5 1249.0,686.2C1251.8,687.0 1254.6,688.0 1257.4,689.1C1260.2,690.1 1263.0,691.4 1265.8,692.6C1268.6,693.8 1271.2,695.0 1274.2,696.2C1277.2,697.3 1282.2,699.1 1283.9,699.7" fill="none" stroke="#111" stroke-width="1.6" stroke-linejoin="round" stroke-linecap="round" />
<line x1="1374.60" y1="736.80" x2="1374.60" y2="456.80" stroke="#222" stroke-width="1.3" />
<line x1="1374.00" y1="736.20" x2="1720.60" y2="736.20" stroke="#222" stroke-width="1.5" />
<line x1="1371.10" y1="726.40" x2="1374.60" y2="726.40" stroke="#222" stroke-width="1.2" />
<text x="1365.3" y="728.3" font-family='"Liberation Sans", sans-serif' font-size="16" font-weight="normal" text-anchor="end" fill="#000" >0</text>
<line x1="1371.10" y1="690.34" x2="1374.60" y2="690.34" stroke="#222" stroke-width="1.2" />
<text x="1365.3" y="692.2" font-family='"Liberation Sans", sans-serif' font-size="16" font-weight="normal" text-anchor="end" fill="#000" >200</text>
<line x1="1371.10" y1="654.28" x2="1374.60" y2="654.28" stroke="#222" stroke-width="1.2" />
<text x="1365.3" y="656.2" font-family='"Liberation Sans", sans-serif' font-size="16" font-weight="normal" text-anchor="end" fill="#000" >400</text>
<line x1="1371.10" y1="618.22" x2="1374.60" y2="618.22" stroke="#222" stroke-width="1.2" />
<text x="1365.3" y="620.1" font-family='"Liberation Sans", sans-serif' font-size="16" font-weight="normal" text-anchor="end" fill="#000" >600</text>
<line x1="1371.10" y1="582.16" x2="1374.60" y2="582.16" stroke="#222" stroke-width="1.2" />
<text x="1365.3" y="584.1" font-family='"Liberation Sans", sans-serif' font-size="16" font-weight="normal" text-anchor="end" fill="#000" >800</text>
<line x1="1371.10" y1="546.10" x2="1374.60" y2="546.10" stroke="#222" stroke-width="1.2" />
<text x="1365.3" y="548.0" font-family='"Liberation Sans", sans-serif' font-size="16" font-weight="normal" text-anchor="end" fill="#000" >1000</text>
<line x1="1371.10" y1="510.04" x2="1374.60" y2="510.04" stroke="#222" stroke-width="1.2" />
<text x="1365.3" y="511.9" font-family='"Liberation Sans", sans-serif' font-size="16" font-weight="normal" text-anchor="end" fill="#000" >1200</text>
<line x1="1371.10" y1="473.98" x2="1374.60" y2="473.98" stroke="#222" stroke-width="1.2" />
<text x="1365.3" y="475.9" font-family='"Liberation Sans", sans-serif' font-size="16" font-weight="normal" text-anchor="end" fill="#000" >1400</text>
<line x1="1372.40" y1="708.37" x2="1374.60" y2="708.37" stroke="#222" stroke-width="1.1" />
<line x1="1372.40" y1="672.31" x2="1374.60" y2="672.31" stroke="#222" stroke-width="1.1" />
<line x1="1372.40" y1="636.25" x2="1374.60" y2="636.25" stroke="#222" stroke-width="1.1" />
<line x1="1372.40" y1="600.19" x2="1374.60" y2="600.19" stroke="#222" stroke-width="1.1" />
<line x1="1372.40" y1="564.13" x2="1374.60" y2="564.13" stroke="#222" stroke-width="1.1" />
<line x1="1372.40" y1="528.07" x2="1374.60" y2="528.07" stroke="#222" stroke-width="1.1" />
<line x1="1372.40" y1="492.01" x2="1374.60" y2="492.01" stroke="#222" stroke-width="1.1" />
<line x1="1374.90" y1="736.20" x2="1374.90" y2="731.70" stroke="#222" stroke-width="1.2" />
<text x="1374.9" y="757.2" font-family='"Liberation Sans", sans-serif' font-size="16" font-weight="normal" text-anchor="middle" fill="#000" >0</text>
<line x1="1427.90" y1="736.20" x2="1427.90" y2="731.70" stroke="#222" stroke-width="1.2" />
<text x="1427.9" y="757.2" font-family='"Liberation Sans", sans-serif' font-size="16" font-weight="normal" text-anchor="middle" fill="#000" >10</text>
<line x1="1480.90" y1="736.20" x2="1480.90" y2="731.70" stroke="#222" stroke-width="1.2" />
<text x="1480.9" y="757.2" font-family='"Liberation Sans", sans-serif' font-size="16" font-weight="normal" text-anchor="middle" fill="#000" >20</text>
<line x1="1533.90" y1="736.20" x2="1533.90" y2="731.70" stroke="#222" stroke-width="1.2" />
<text x="1533.9" y="757.2" font-family='"Liberation Sans", sans-serif' font-size="16" font-weight="normal" text-anchor="middle" fill="#000" >30</text>
<line x1="1586.90" y1="736.20" x2="1586.90" y2="731.70" stroke="#222" stroke-width="1.2" />
<text x="1586.9" y="757.2" font-family='"Liberation Sans", sans-serif' font-size="16" font-weight="normal" text-anchor="middle" fill="#000" >40</text>
<line x1="1639.90" y1="736.20" x2="1639.90" y2="731.70" stroke="#222" stroke-width="1.2" />
<text x="1639.9" y="757.2" font-family='"Liberation Sans", sans-serif' font-size="16" font-weight="normal" text-anchor="middle" fill="#000" >50</text>
<line x1="1692.90" y1="736.20" x2="1692.90" y2="731.70" stroke="#222" stroke-width="1.2" />
<text x="1692.9" y="757.2" font-family='"Liberation Sans", sans-serif' font-size="16" font-weight="normal" text-anchor="middle" fill="#000" >60</text>
<line x1="1401.40" y1="736.20" x2="1401.40" y2="733.70" stroke="#222" stroke-width="1.1" />
<line x1="1454.40" y1="736.20" x2="1454.40" y2="733.70" stroke="#222" stroke-width="1.1" />
<line x1="1507.40" y1="736.20" x2="1507.40" y2="733.70" stroke="#222" stroke-width="1.1" />
<line x1="1560.40" y1="736.20" x2="1560.40" y2="733.70" stroke="#222" stroke-width="1.1" />
<line x1="1613.40" y1="736.20" x2="1613.40" y2="733.70" stroke="#222" stroke-width="1.1" />
<line x1="1666.40" y1="736.20" x2="1666.40" y2="733.70" stroke="#222" stroke-width="1.1" />
<text x="1713.0" y="755.2" font-family='"Liberation Sans", sans-serif' font-size="16" font-weight="normal" text-anchor="start" fill="#000" >min</text>
<text x="1333.3" y="455.2" font-family='"Liberation Sans", sans-serif' font-size="16" font-weight="normal" text-anchor="start" fill="#000" >mAU</text>
<text x="1427.8" y="561.2" font-family='"Liberation Sans", sans-serif' font-size="15" font-weight="normal" text-anchor="start" fill="#000" >hesperidin</text>
<line x1="1498.00" y1="557.20" x2="1516.30" y2="557.20" stroke="#9a9a9a" stroke-width="1" />
<text x="1700.0" y="692.6" font-family='"Liberation Sans", sans-serif' font-size="14.5" font-weight="bold" text-anchor="start" fill="#000" textLength="34" lengthAdjust="spacing">AFIC</text>
<text x="1698.8" y="730.0" font-family='"Liberation Sans", sans-serif' font-size="14.8" font-weight="bold" text-anchor="start" fill="#000" textLength="70" lengthAdjust="spacing">AFIC-CDs</text>
<polyline points="1374.9,726.4 1689.2,726.4 1691.3,724.8 1693.4,726.7" fill="none" stroke="#1a1a1a" stroke-width="1.4" stroke-linejoin="round" stroke-linecap="round" />
<polyline points="1374.9,690.3 1394.2,690.3 1395.5,683.1 1396.1,681.8 1397.0,686.5 1401.7,690.3 1409.9,690.3 1410.6,687.8 1410.9,687.3 1411.5,689.0 1413.1,690.3 1505.0,690.3 1505.9,678.4 1506.3,676.3 1507.0,684.0 1510.3,690.3 1527.0,690.3 1527.7,684.8 1528.1,683.8 1528.6,687.4 1529.7,690.3 1541.2,690.3 1541.6,686.1 1541.9,685.3 1542.2,688.1 1543.1,690.3 1544.8,690.3 1545.3,685.1 1545.6,684.1 1546.0,687.6 1547.2,690.3 1550.3,690.3 1551.4,683.9 1551.9,682.7 1552.7,686.9 1555.1,690.3 1578.4,690.3 1578.8,689.3 1579.0,689.1 1579.2,689.8 1580.0,690.3 1582.7,690.3 1583.0,689.1 1583.2,688.9 1583.5,689.7 1584.2,690.3 1588.2,690.3 1588.7,687.4 1589.0,686.8 1589.4,688.8 1591.9,690.3 1594.1,690.3 1594.6,691.0 1594.9,691.1 1595.2,690.7 1596.4,690.3 1599.6,690.3 1600.0,689.1 1600.2,688.8 1600.4,689.7 1601.2,690.3 1603.3,690.3 1603.7,688.8 1603.9,688.5 1604.1,689.5 1604.9,690.3 1618.7,690.3 1619.7,682.3 1620.3,680.8 1621.1,686.1 1626.7,690.3 1643.1,690.3 1643.4,689.4 1643.6,689.2 1643.9,689.8 1644.7,690.3 1647.3,690.3 1647.7,689.3 1647.9,689.1 1648.1,689.8 1648.9,690.3 1651.6,690.3 1651.9,689.3 1652.1,689.1 1652.4,689.8 1653.2,690.3 1693.4,690.3" fill="none" stroke="#bb5240" stroke-width="1.15" stroke-linejoin="round" stroke-linecap="round" />
<line x1="1519.30" y1="690.34" x2="1519.30" y2="672.80" stroke="#bb5240" stroke-width="1.0" />
<path d="M1519.8,690.3 L1520.7,509.6 L1521.7,509.6 L1523.1,690.3" fill="#fff" stroke="#b8473a" stroke-width="1.1" stroke-linejoin="miter"/>
<line x1="1521.20" y1="509.60" x2="1521.10" y2="571.00" stroke="#a3241e" stroke-width="2.3" />
<line x1="1529.50" y1="456.80" x2="1529.50" y2="520.00" stroke="#b35c4a" stroke-width="1.0" />
<path d="M1527.4,690.3 L1529.0,514.0 L1530.0,514.0 L1532.2,690.3" fill="#fff" stroke="#b8473a" stroke-width="1.1" stroke-linejoin="miter"/>
<line x1="1529.50" y1="516.00" x2="1529.40" y2="567.00" stroke="#a3241e" stroke-width="2.5" />
</svg>
</body></html>
